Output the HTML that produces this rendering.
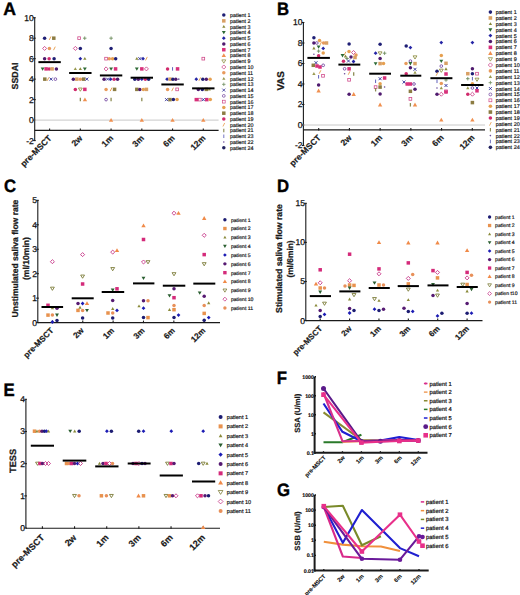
<!DOCTYPE html>
<html><head><meta charset="utf-8"><title>Figure</title>
<style>
html,body{margin:0;padding:0;background:#fff;}
body{width:520px;height:595px;overflow:hidden;}
svg{display:block;font-family:"Liberation Sans", sans-serif;text-rendering:geometricPrecision;}
</style></head><body>
<svg width="520" height="595" viewBox="0 0 520 595">
<rect width="520" height="595" fill="#fff"/>
<text transform="translate(3.27 15.05) scale(0.98 1)" font-size="18" font-weight="bold" fill="#000" stroke="#000" stroke-width="0.4">A</text>
<path d="M34.7 17.7L34.7 140.58" stroke="#1a1a1a" stroke-width="1.1" fill="none"/>
<path d="M33.1 17.7L35.7 17.7" stroke="#1a1a1a" stroke-width="1.1" fill="none"/>
<text x="33.8" y="20.65" font-size="8.5" font-weight="normal" text-anchor="end" fill="#111" stroke="#111" stroke-width="0.25">10</text>
<path d="M33.1 38.18L35.7 38.18" stroke="#1a1a1a" stroke-width="1.1" fill="none"/>
<text x="33.8" y="41.13" font-size="8.5" font-weight="normal" text-anchor="end" fill="#111" stroke="#111" stroke-width="0.25">8</text>
<path d="M33.1 58.66L35.7 58.66" stroke="#1a1a1a" stroke-width="1.1" fill="none"/>
<text x="33.8" y="61.61" font-size="8.5" font-weight="normal" text-anchor="end" fill="#111" stroke="#111" stroke-width="0.25">6</text>
<path d="M33.1 79.14L35.7 79.14" stroke="#1a1a1a" stroke-width="1.1" fill="none"/>
<text x="33.8" y="82.09" font-size="8.5" font-weight="normal" text-anchor="end" fill="#111" stroke="#111" stroke-width="0.25">4</text>
<path d="M33.1 99.62L35.7 99.62" stroke="#1a1a1a" stroke-width="1.1" fill="none"/>
<text x="33.8" y="102.57" font-size="8.5" font-weight="normal" text-anchor="end" fill="#111" stroke="#111" stroke-width="0.25">2</text>
<path d="M33.1 120.1L35.7 120.1" stroke="#1a1a1a" stroke-width="1.1" fill="none"/>
<text x="33.8" y="123.05" font-size="8.5" font-weight="normal" text-anchor="end" fill="#111" stroke="#111" stroke-width="0.25">0</text>
<path d="M33.1 140.58L35.7 140.58" stroke="#1a1a1a" stroke-width="1.1" fill="none"/>
<text x="33.8" y="143.53" font-size="8.5" font-weight="normal" text-anchor="end" fill="#111" stroke="#111" stroke-width="0.25">-2</text>
<path d="M34.7 120.1L218.6 120.1" stroke="#c8c8c8" stroke-width="1" fill="none"/>
<path d="M34.7 130.4L218.6 130.4" stroke="#1a1a1a" stroke-width="1.1" fill="none"/>
<path d="M49.6 128.4L49.6 130.9" stroke="#1a1a1a" stroke-width="1.1" fill="none"/>
<text x="52.3" y="138.75" font-size="8.5" font-weight="bold" text-anchor="end" fill="#1a1a1a" transform="rotate(-45 52.3 138.75)" stroke="#1a1a1a" stroke-width="0.2">pre-MSCT</text>
<path d="M80.34 128.4L80.34 130.9" stroke="#1a1a1a" stroke-width="1.1" fill="none"/>
<text x="83.04" y="138.75" font-size="8.5" font-weight="bold" text-anchor="end" fill="#1a1a1a" transform="rotate(-45 83.04 138.75)" stroke="#1a1a1a" stroke-width="0.2">2w</text>
<path d="M111.08 128.4L111.08 130.9" stroke="#1a1a1a" stroke-width="1.1" fill="none"/>
<text x="113.78" y="138.75" font-size="8.5" font-weight="bold" text-anchor="end" fill="#1a1a1a" transform="rotate(-45 113.78 138.75)" stroke="#1a1a1a" stroke-width="0.2">1m</text>
<path d="M141.82 128.4L141.82 130.9" stroke="#1a1a1a" stroke-width="1.1" fill="none"/>
<text x="144.52" y="138.75" font-size="8.5" font-weight="bold" text-anchor="end" fill="#1a1a1a" transform="rotate(-45 144.52 138.75)" stroke="#1a1a1a" stroke-width="0.2">3m</text>
<path d="M172.56 128.4L172.56 130.9" stroke="#1a1a1a" stroke-width="1.1" fill="none"/>
<text x="175.26" y="138.75" font-size="8.5" font-weight="bold" text-anchor="end" fill="#1a1a1a" transform="rotate(-45 175.26 138.75)" stroke="#1a1a1a" stroke-width="0.2">6m</text>
<path d="M203.3 128.4L203.3 130.9" stroke="#1a1a1a" stroke-width="1.1" fill="none"/>
<text x="206" y="138.75" font-size="8.5" font-weight="bold" text-anchor="end" fill="#1a1a1a" transform="rotate(-45 206 138.75)" stroke="#1a1a1a" stroke-width="0.2">12m</text>
<text x="17.8" y="76" font-size="8.8" font-weight="bold" text-anchor="middle" fill="#1a1a1a" transform="rotate(-90 17.8 76)" stroke="#1a1a1a" stroke-width="0.25">SSDAI</text>
<circle cx="44.6" cy="38.18" r="1.75" fill="#1f1f75"/>
<path d="M49.23 39.93L50.98 36.43" stroke="#e8a050" stroke-width="0.96" fill="none"/>
<rect x="52.05" y="36.43" width="3.5" height="3.5" fill="#8c7c42"/>
<path d="M44.6 46.4L46.62 48.42L44.6 50.43L42.59 48.42Z" fill="none" stroke="#c8307f" stroke-width="0.8"/>
<circle cx="49.4" cy="48.42" r="1.75" fill="#e89a5c"/>
<path d="M53.52 50.17L55.27 46.67" stroke="#e8a050" stroke-width="0.96" fill="none"/>
<circle cx="44.6" cy="58.66" r="1.75" fill="#4f1a6e"/>
<circle cx="49.1" cy="58.66" r="1.75" fill="#d02a6c"/>
<circle cx="54.1" cy="58.66" r="1.75" fill="#1f1f75"/>
<path d="M42.6 70.82L44.52 67.5L40.68 67.5Z" fill="#2d6a35"/>
<rect x="44.35" y="67.15" width="3.5" height="3.5" fill="#d8307a"/>
<circle cx="49.1" cy="68.9" r="1.75" fill="#d02a6c"/>
<rect x="50.35" y="67.15" width="3.5" height="3.5" fill="#d9a064"/>
<circle cx="56.4" cy="68.9" r="1.75" fill="#4f1a6e"/>
<rect x="43.05" y="77.39" width="3.5" height="3.5" fill="#8c7c42"/>
<path d="M47.12 80.89L48.88 77.39" stroke="#e8a050" stroke-width="0.96" fill="none"/>
<path d="M49.61 77.65L52.59 80.63M52.59 77.65L49.61 80.63" stroke="#2a2a95" stroke-width="0.8800000000000001" fill="none"/>
<circle cx="55.4" cy="79.14" r="1.35" fill="none" stroke="#6a3a9a" stroke-width="0.8"/>
<rect x="77.79" y="36.83" width="2.7" height="2.7" fill="none" stroke="#d04a8a" stroke-width="0.8"/>
<path d="M82.99 38.18H86.49M84.74 36.43V39.93" stroke="#6c8c5c" stroke-width="0.8800000000000001" fill="none"/>
<path d="M75.34 46.4L77.36 48.42L75.34 50.43L73.33 48.42Z" fill="none" stroke="#c8307f" stroke-width="0.8"/>
<circle cx="80.34" cy="48.42" r="1.75" fill="#1f1f75"/>
<path d="M80.34 56.77L82.23 58.66L80.34 60.55L78.45 58.66Z" fill="#2525a5"/>
<path d="M84.84 57.02L86.48 59.84L83.2 59.84Z" fill="#8a8a3a"/>
<path d="M75.34 67.26L76.98 70.08L73.7 70.08Z" fill="#9a9a50"/>
<path d="M80.34 67.26L81.98 70.08L78.7 70.08Z" fill="#8a8a3a"/>
<path d="M84.84 70.82L86.77 67.5L82.92 67.5Z" fill="#2d6a35"/>
<circle cx="73.34" cy="79.14" r="1.75" fill="#4f1a6e"/>
<rect x="75.09" y="77.39" width="3.5" height="3.5" fill="#d9a064"/>
<circle cx="80.34" cy="79.14" r="1.75" fill="#e89a5c"/>
<rect x="81.89" y="77.39" width="3.5" height="3.5" fill="#8c7c42"/>
<path d="M85.35 77.65L88.33 80.63M88.33 77.65L85.35 80.63" stroke="#2a2a95" stroke-width="0.8800000000000001" fill="none"/>
<circle cx="75.34" cy="89.38" r="1.75" fill="#d02a6c"/>
<path d="M80.34 91.23L82.27 88.04L78.41 88.04Z" fill="none" stroke="#8a8a3a" stroke-width="0.8400000000000001" stroke-linejoin="miter"/>
<rect x="83.09" y="87.63" width="3.5" height="3.5" fill="#d8307a"/>
<path d="M80.34 97.87V101.37" stroke="#8a8a50" stroke-width="1.2800000000000002" fill="none"/>
<path d="M84.94 97.43L87.13 101.19L82.75 101.19Z" fill="#f09050"/>
<path d="M109.33 38.18H112.83M111.08 36.43V39.93" stroke="#6c8c5c" stroke-width="0.8800000000000001" fill="none"/>
<circle cx="111.08" cy="48.42" r="1.75" fill="#1f1f75"/>
<rect x="104.73" y="57.31" width="2.7" height="2.7" fill="none" stroke="#d04a8a" stroke-width="0.8"/>
<circle cx="109.28" cy="58.66" r="1.75" fill="#e89a5c"/>
<circle cx="112.58" cy="58.66" r="1.75" fill="#e6a050"/>
<circle cx="115.68" cy="58.66" r="1.75" fill="#1f1f75"/>
<path d="M106.08 66.88L108.09 68.9L106.08 70.91L104.06 68.9Z" fill="none" stroke="#c8307f" stroke-width="0.8"/>
<path d="M111.08 70.82L113 67.5L109.16 67.5Z" fill="#2d6a35"/>
<rect x="113.83" y="67.15" width="3.5" height="3.5" fill="#d8307a"/>
<circle cx="104.08" cy="79.14" r="1.75" fill="#4f1a6e"/>
<path d="M106.09 77.65L109.07 80.63M109.07 77.65L106.09 80.63" stroke="#2a2a95" stroke-width="0.8800000000000001" fill="none"/>
<path d="M110.58 77.25L112.47 79.14L110.58 81.03L108.69 79.14Z" fill="#2525a5"/>
<circle cx="114.08" cy="79.14" r="1.75" fill="#d02a6c"/>
<circle cx="117.58" cy="79.14" r="1.75" fill="#4f1a6e"/>
<circle cx="106.08" cy="89.38" r="1.75" fill="#e89a5c"/>
<path d="M110.2 91.13L111.95 87.63" stroke="#e8a050" stroke-width="0.96" fill="none"/>
<rect x="112.83" y="87.63" width="3.5" height="3.5" fill="#8c7c42"/>
<circle cx="106.08" cy="99.62" r="1.35" fill="none" stroke="#6a3a9a" stroke-width="0.8"/>
<path d="M111.08 97.87V101.37" stroke="#8a8a50" stroke-width="1.2800000000000002" fill="none"/>
<path d="M111.08 117.91L113.27 121.67L108.89 121.67Z" fill="#f09050"/>
<path d="M136.82 57.02L138.46 59.84L135.18 59.84Z" fill="#8a8a3a"/>
<path d="M138.33 57.17L141.31 60.15M141.31 57.17L138.33 60.15" stroke="#2a2a95" stroke-width="0.8800000000000001" fill="none"/>
<path d="M143.02 56.77L144.91 58.66L143.02 60.55L141.13 58.66Z" fill="#2525a5"/>
<path d="M145.54 60.41L147.29 56.91" stroke="#e8a050" stroke-width="0.96" fill="none"/>
<path d="M136.82 70.82L138.75 67.5L134.89 67.5Z" fill="#2d6a35"/>
<rect x="140.07" y="67.15" width="3.5" height="3.5" fill="#d8307a"/>
<path d="M146.42 66.88L148.43 68.9L146.42 70.91L144.41 68.9Z" fill="none" stroke="#c8307f" stroke-width="0.8"/>
<circle cx="134.82" cy="79.14" r="1.75" fill="#1f1f75"/>
<circle cx="138.32" cy="79.14" r="1.75" fill="#4f1a6e"/>
<path d="M141.82 77.25L143.71 79.14L141.82 81.03L139.93 79.14Z" fill="#2525a5"/>
<circle cx="145.32" cy="79.14" r="1.75" fill="#d02a6c"/>
<circle cx="148.62" cy="79.14" r="1.75" fill="#1f1f75"/>
<rect x="135.07" y="87.63" width="3.5" height="3.5" fill="#8c7c42"/>
<circle cx="139.82" cy="89.38" r="1.75" fill="#4f1a6e"/>
<circle cx="143.32" cy="89.38" r="1.75" fill="#e6a050"/>
<rect x="144.67" y="87.63" width="3.5" height="3.5" fill="#d9a064"/>
<path d="M141.82 97.87V101.37" stroke="#8a8a50" stroke-width="1.2800000000000002" fill="none"/>
<path d="M141.82 117.91L144.01 121.67L139.63 121.67Z" fill="#f09050"/>
<circle cx="167.56" cy="68.9" r="1.75" fill="#d02a6c"/>
<path d="M172.56 67.15V70.65" stroke="#4a4ab0" stroke-width="0.8800000000000001" fill="none"/>
<rect x="175.81" y="67.15" width="3.5" height="3.5" fill="#d8307a"/>
<path d="M167.06 77.25L168.95 79.14L167.06 81.03L165.17 79.14Z" fill="#2525a5"/>
<rect x="168.31" y="77.39" width="3.5" height="3.5" fill="#d9a064"/>
<circle cx="172.86" cy="79.14" r="1.75" fill="#1f1f75"/>
<circle cx="175.76" cy="79.14" r="1.75" fill="#4f1a6e"/>
<circle cx="178.76" cy="79.14" r="0.79" fill="#6a4a9a"/>
<circle cx="167.56" cy="89.38" r="1.75" fill="#e89a5c"/>
<path d="M171.69 91.13L173.44 87.63" stroke="#e8a050" stroke-width="0.96" fill="none"/>
<rect x="175.81" y="88.03" width="2.7" height="2.7" fill="none" stroke="#d04a8a" stroke-width="0.8"/>
<path d="M165.07 98.13L168.05 101.11M168.05 98.13L165.07 101.11" stroke="#2a2a95" stroke-width="0.8800000000000001" fill="none"/>
<rect x="168.21" y="97.87" width="3.5" height="3.5" fill="#8c7c42"/>
<circle cx="173.36" cy="99.62" r="1.75" fill="#1f1f75"/>
<circle cx="177.06" cy="99.62" r="1.75" fill="#e6a050"/>
<path d="M172.56 117.91L174.75 121.67L170.37 121.67Z" fill="#f09050"/>
<rect x="201.95" y="57.31" width="2.7" height="2.7" fill="none" stroke="#d04a8a" stroke-width="0.8"/>
<path d="M196.3 77.25L198.19 79.14L196.3 81.03L194.41 79.14Z" fill="#2525a5"/>
<path d="M198.92 80.89L200.67 77.39" stroke="#e8a050" stroke-width="0.96" fill="none"/>
<circle cx="202.8" cy="79.14" r="1.75" fill="#1f1f75"/>
<circle cx="206.3" cy="79.14" r="1.75" fill="#4f1a6e"/>
<circle cx="210.1" cy="79.14" r="1.75" fill="#e6a050"/>
<circle cx="198.3" cy="89.38" r="1.75" fill="#4f1a6e"/>
<circle cx="202.3" cy="89.38" r="1.75" fill="#1f1f75"/>
<rect x="204.55" y="87.63" width="3.5" height="3.5" fill="#8c7c42"/>
<path d="M209.3 87.74L210.94 90.56L207.66 90.56Z" fill="#9a9a50"/>
<rect x="194.55" y="97.87" width="3.5" height="3.5" fill="#d8307a"/>
<rect x="198.45" y="98.27" width="2.7" height="2.7" fill="none" stroke="#d04a8a" stroke-width="0.8"/>
<path d="M201.81 98.13L204.79 101.11M204.79 98.13L201.81 101.11" stroke="#2a2a95" stroke-width="0.8800000000000001" fill="none"/>
<rect x="205.05" y="97.87" width="3.5" height="3.5" fill="#d8307a"/>
<circle cx="210.3" cy="99.62" r="1.75" fill="#e6a050"/>
<path d="M203.3 117.91L205.49 121.67L201.11 121.67Z" fill="#f09050"/>
<path d="M38.4 62.14L60.8 62.14" stroke="#000" stroke-width="2" fill="none"/>
<path d="M69.14 73L91.54 73" stroke="#000" stroke-width="2" fill="none"/>
<path d="M99.88 75.45L122.28 75.45" stroke="#000" stroke-width="2" fill="none"/>
<path d="M130.62 77.71L153.02 77.71" stroke="#000" stroke-width="2" fill="none"/>
<path d="M161.36 84.46L183.76 84.46" stroke="#000" stroke-width="2" fill="none"/>
<path d="M192.1 88.36L214.5 88.36" stroke="#000" stroke-width="2" fill="none"/>
<circle cx="223.8" cy="15.1" r="1.75" fill="#1f1f75"/>
<text x="230" y="17.03" font-size="5.35" font-weight="normal" text-anchor="start" fill="#111" stroke="#111" stroke-width="0.17">patient 1</text>
<rect x="222.05" y="19.12" width="3.5" height="3.5" fill="#d9a064"/>
<text x="230" y="22.8" font-size="5.35" font-weight="normal" text-anchor="start" fill="#111" stroke="#111" stroke-width="0.17">patient 2</text>
<path d="M223.8 25L225.44 27.82L222.16 27.82Z" fill="#8a8a3a"/>
<text x="230" y="28.57" font-size="5.35" font-weight="normal" text-anchor="start" fill="#111" stroke="#111" stroke-width="0.17">patient 3</text>
<path d="M223.8 34.33L225.73 31.01L221.88 31.01Z" fill="#2d6a35"/>
<text x="230" y="34.34" font-size="5.35" font-weight="normal" text-anchor="start" fill="#111" stroke="#111" stroke-width="0.17">patient 4</text>
<path d="M223.8 36.29L225.69 38.18L223.8 40.07L221.91 38.18Z" fill="#2525a5"/>
<text x="230" y="40.11" font-size="5.35" font-weight="normal" text-anchor="start" fill="#111" stroke="#111" stroke-width="0.17">patient 5</text>
<circle cx="223.8" cy="43.95" r="1.75" fill="#4f1a6e"/>
<text x="230" y="45.88" font-size="5.35" font-weight="normal" text-anchor="start" fill="#111" stroke="#111" stroke-width="0.17">patient 6</text>
<rect x="222.05" y="47.97" width="3.5" height="3.5" fill="#d8307a"/>
<text x="230" y="51.65" font-size="5.35" font-weight="normal" text-anchor="start" fill="#111" stroke="#111" stroke-width="0.17">patient 7</text>
<path d="M223.8 53.3L225.99 57.07L221.61 57.07Z" fill="#f09050"/>
<text x="230" y="57.42" font-size="5.35" font-weight="normal" text-anchor="start" fill="#111" stroke="#111" stroke-width="0.17">patient 8</text>
<path d="M223.8 63.17L225.79 59.87L221.81 59.87Z" fill="none" stroke="#8a8a3a" stroke-width="0.735" stroke-linejoin="miter"/>
<text x="230" y="63.19" font-size="5.35" font-weight="normal" text-anchor="start" fill="#111" stroke="#111" stroke-width="0.17">patient 9</text>
<path d="M223.8 64.96L225.87 67.03L223.8 69.09L221.74 67.03Z" fill="none" stroke="#c8307f" stroke-width="0.7"/>
<text x="230" y="68.96" font-size="5.35" font-weight="normal" text-anchor="start" fill="#111" stroke="#111" stroke-width="0.17">patient 10</text>
<circle cx="223.8" cy="72.8" r="1.75" fill="#e89a5c"/>
<text x="230" y="74.73" font-size="5.35" font-weight="normal" text-anchor="start" fill="#111" stroke="#111" stroke-width="0.17">patient 11</text>
<path d="M223.8 76.93L225.44 79.75L222.16 79.75Z" fill="#9a9a50"/>
<text x="230" y="80.5" font-size="5.35" font-weight="normal" text-anchor="start" fill="#111" stroke="#111" stroke-width="0.17">patient 12</text>
<path d="M222.05 84.34H225.55M223.8 82.59V86.09" stroke="#6c8c5c" stroke-width="0.77" fill="none"/>
<text x="230" y="86.27" font-size="5.35" font-weight="normal" text-anchor="start" fill="#111" stroke="#111" stroke-width="0.17">patient 13</text>
<path d="M222.31 88.62L225.29 91.6M225.29 88.62L222.31 91.6" stroke="#2a2a95" stroke-width="0.77" fill="none"/>
<text x="230" y="92.04" font-size="5.35" font-weight="normal" text-anchor="start" fill="#111" stroke="#111" stroke-width="0.17">patient 14</text>
<circle cx="223.8" cy="95.88" r="1.4" fill="none" stroke="#6a3a9a" stroke-width="0.7"/>
<text x="230" y="97.81" font-size="5.35" font-weight="normal" text-anchor="start" fill="#111" stroke="#111" stroke-width="0.17">patient 15</text>
<rect x="222.4" y="100.25" width="2.8" height="2.8" fill="none" stroke="#d04a8a" stroke-width="0.7"/>
<text x="230" y="103.58" font-size="5.35" font-weight="normal" text-anchor="start" fill="#111" stroke="#111" stroke-width="0.17">patient 16</text>
<circle cx="223.8" cy="107.42" r="1.75" fill="#e6a050"/>
<text x="230" y="109.35" font-size="5.35" font-weight="normal" text-anchor="start" fill="#111" stroke="#111" stroke-width="0.17">patient 17</text>
<rect x="222.05" y="111.44" width="3.5" height="3.5" fill="#8c7c42"/>
<text x="230" y="115.12" font-size="5.35" font-weight="normal" text-anchor="start" fill="#111" stroke="#111" stroke-width="0.17">patient 18</text>
<circle cx="223.8" cy="118.96" r="1.75" fill="#d02a6c"/>
<text x="230" y="120.89" font-size="5.35" font-weight="normal" text-anchor="start" fill="#111" stroke="#111" stroke-width="0.17">patient 19</text>
<path d="M222.93 126.48L224.68 122.98" stroke="#e8a050" stroke-width="0.84" fill="none"/>
<text x="230" y="126.66" font-size="5.35" font-weight="normal" text-anchor="start" fill="#111" stroke="#111" stroke-width="0.17">patient 20</text>
<path d="M223.8 128.75V132.25" stroke="#8a8a50" stroke-width="1.1199999999999999" fill="none"/>
<text x="230" y="132.43" font-size="5.35" font-weight="normal" text-anchor="start" fill="#111" stroke="#111" stroke-width="0.17">patient 21</text>
<path d="M223.8 134.52V138.02" stroke="#4a4ab0" stroke-width="0.77" fill="none"/>
<text x="230" y="138.2" font-size="5.35" font-weight="normal" text-anchor="start" fill="#111" stroke="#111" stroke-width="0.17">patient 23</text>
<circle cx="223.8" cy="142.04" r="0.79" fill="#6a4a9a"/>
<text x="230" y="143.97" font-size="5.35" font-weight="normal" text-anchor="start" fill="#111" stroke="#111" stroke-width="0.17">patient 22</text>
<circle cx="223.8" cy="147.81" r="1.75" fill="#23235f"/>
<text x="230" y="149.74" font-size="5.35" font-weight="normal" text-anchor="start" fill="#111" stroke="#111" stroke-width="0.17">patient 24</text>
<text transform="translate(276.93 15.05) scale(0.93 1)" font-size="18" font-weight="bold" fill="#000" stroke="#000" stroke-width="0.4">B</text>
<path d="M303.4 22.5L303.4 145.5" stroke="#1a1a1a" stroke-width="1.1" fill="none"/>
<path d="M301.8 22.5L304.4 22.5" stroke="#1a1a1a" stroke-width="1.1" fill="none"/>
<text x="302.5" y="25.45" font-size="8.5" font-weight="normal" text-anchor="end" fill="#111" stroke="#111" stroke-width="0.25">10</text>
<path d="M301.8 43L304.4 43" stroke="#1a1a1a" stroke-width="1.1" fill="none"/>
<text x="302.5" y="45.95" font-size="8.5" font-weight="normal" text-anchor="end" fill="#111" stroke="#111" stroke-width="0.25">8</text>
<path d="M301.8 63.5L304.4 63.5" stroke="#1a1a1a" stroke-width="1.1" fill="none"/>
<text x="302.5" y="66.45" font-size="8.5" font-weight="normal" text-anchor="end" fill="#111" stroke="#111" stroke-width="0.25">6</text>
<path d="M301.8 84L304.4 84" stroke="#1a1a1a" stroke-width="1.1" fill="none"/>
<text x="302.5" y="86.95" font-size="8.5" font-weight="normal" text-anchor="end" fill="#111" stroke="#111" stroke-width="0.25">4</text>
<path d="M301.8 104.5L304.4 104.5" stroke="#1a1a1a" stroke-width="1.1" fill="none"/>
<text x="302.5" y="107.45" font-size="8.5" font-weight="normal" text-anchor="end" fill="#111" stroke="#111" stroke-width="0.25">2</text>
<path d="M301.8 125L304.4 125" stroke="#1a1a1a" stroke-width="1.1" fill="none"/>
<text x="302.5" y="127.95" font-size="8.5" font-weight="normal" text-anchor="end" fill="#111" stroke="#111" stroke-width="0.25">0</text>
<path d="M301.8 145.5L304.4 145.5" stroke="#1a1a1a" stroke-width="1.1" fill="none"/>
<text x="302.5" y="148.45" font-size="8.5" font-weight="normal" text-anchor="end" fill="#111" stroke="#111" stroke-width="0.25">-2</text>
<path d="M303.4 125L485 125" stroke="#c8c8c8" stroke-width="1" fill="none"/>
<path d="M303.4 129.9L485 129.9" stroke="#1a1a1a" stroke-width="1.1" fill="none"/>
<path d="M318.7 127.9L318.7 130.4" stroke="#1a1a1a" stroke-width="1.1" fill="none"/>
<text x="321.4" y="138.25" font-size="8.5" font-weight="bold" text-anchor="end" fill="#1a1a1a" transform="rotate(-45 321.4 138.25)" stroke="#1a1a1a" stroke-width="0.2">pre-MSCT</text>
<path d="M349.42 127.9L349.42 130.4" stroke="#1a1a1a" stroke-width="1.1" fill="none"/>
<text x="352.12" y="138.25" font-size="8.5" font-weight="bold" text-anchor="end" fill="#1a1a1a" transform="rotate(-45 352.12 138.25)" stroke="#1a1a1a" stroke-width="0.2">2w</text>
<path d="M380.14 127.9L380.14 130.4" stroke="#1a1a1a" stroke-width="1.1" fill="none"/>
<text x="382.84" y="138.25" font-size="8.5" font-weight="bold" text-anchor="end" fill="#1a1a1a" transform="rotate(-45 382.84 138.25)" stroke="#1a1a1a" stroke-width="0.2">1m</text>
<path d="M410.86 127.9L410.86 130.4" stroke="#1a1a1a" stroke-width="1.1" fill="none"/>
<text x="413.56" y="138.25" font-size="8.5" font-weight="bold" text-anchor="end" fill="#1a1a1a" transform="rotate(-45 413.56 138.25)" stroke="#1a1a1a" stroke-width="0.2">3m</text>
<path d="M441.58 127.9L441.58 130.4" stroke="#1a1a1a" stroke-width="1.1" fill="none"/>
<text x="444.28" y="138.25" font-size="8.5" font-weight="bold" text-anchor="end" fill="#1a1a1a" transform="rotate(-45 444.28 138.25)" stroke="#1a1a1a" stroke-width="0.2">6m</text>
<path d="M472.3 127.9L472.3 130.4" stroke="#1a1a1a" stroke-width="1.1" fill="none"/>
<text x="475" y="138.25" font-size="8.5" font-weight="bold" text-anchor="end" fill="#1a1a1a" transform="rotate(-45 475 138.25)" stroke="#1a1a1a" stroke-width="0.2">12m</text>
<text x="284.3" y="80.9" font-size="9.8" font-weight="bold" text-anchor="middle" fill="#1a1a1a" transform="rotate(-90 284.3 80.9)" stroke="#1a1a1a" stroke-width="0.25">VAS</text>
<circle cx="313.9" cy="37.8" r="1.75" fill="#1f1f75"/>
<circle cx="313.9" cy="43" r="1.75" fill="#4f1a6e"/>
<circle cx="316.8" cy="43" r="1.35" fill="none" stroke="#6a3a9a" stroke-width="0.8"/>
<circle cx="319.5" cy="40.5" r="1.75" fill="#e6a050"/>
<path d="M319.93 45.05L321.68 41.55" stroke="#e8a050" stroke-width="0.96" fill="none"/>
<circle cx="323.6" cy="43" r="1.75" fill="#e89a5c"/>
<rect x="324.75" y="41.25" width="3.5" height="3.5" fill="#d9a064"/>
<path d="M313.9 46.56L315.54 49.38L312.26 49.38Z" fill="#8a8a3a"/>
<path d="M318.6 48.72L320.53 45.4L316.68 45.4Z" fill="#2d6a35"/>
<path d="M323.2 46.51L325.09 48.4L323.2 50.29L321.31 48.4Z" fill="#2525a5"/>
<path d="M316.85 51.1H320.35M318.6 49.35V52.85" stroke="#6c8c5c" stroke-width="0.8800000000000001" fill="none"/>
<circle cx="313.9" cy="54.2" r="0.79" fill="#6a4a9a"/>
<circle cx="323.2" cy="53.1" r="1.75" fill="#e6a050"/>
<circle cx="318.6" cy="55.8" r="1.75" fill="#d02a6c"/>
<path d="M314.51 61.21L317.49 64.19M317.49 61.21L314.51 64.19" stroke="#2a2a95" stroke-width="0.8800000000000001" fill="none"/>
<rect x="311.55" y="63.55" width="3.5" height="3.5" fill="#8c7c42"/>
<rect x="315.25" y="64.25" width="3.5" height="3.5" fill="#d8307a"/>
<rect x="318.25" y="65.25" width="3.5" height="3.5" fill="#d8307a"/>
<circle cx="323.2" cy="65.3" r="1.35" fill="none" stroke="#6a3a9a" stroke-width="0.8"/>
<path d="M313.9 72.06L315.54 74.88L312.26 74.88Z" fill="#9a9a50"/>
<path d="M319.12 73.75L320.88 70.25" stroke="#e8a050" stroke-width="0.96" fill="none"/>
<rect x="321.65" y="74.45" width="2.7" height="2.7" fill="none" stroke="#d04a8a" stroke-width="0.8"/>
<path d="M318.6 75.05V78.55" stroke="#4a4ab0" stroke-width="0.8800000000000001" fill="none"/>
<circle cx="318.6" cy="84.9" r="1.75" fill="#4f1a6e"/>
<path d="M318.6 88.61L320.79 92.38L316.41 92.38Z" fill="#f09050"/>
<circle cx="349.1" cy="43.9" r="1.75" fill="#1f1f75"/>
<path d="M344.12 55.25L345.88 51.75" stroke="#e8a050" stroke-width="0.96" fill="none"/>
<circle cx="349" cy="51.5" r="1.75" fill="#e6a050"/>
<path d="M353.5 50.48L355.51 52.5L353.5 54.52L351.49 52.5Z" fill="none" stroke="#c8307f" stroke-width="0.8"/>
<circle cx="356" cy="55" r="1.75" fill="#e89a5c"/>
<path d="M342.5 57.42L344.43 54.1L340.57 54.1Z" fill="#2d6a35"/>
<path d="M345.5 54.56L347.14 57.38L343.86 57.38Z" fill="#8a8a3a"/>
<circle cx="351" cy="57" r="1.75" fill="#4f1a6e"/>
<path d="M345.25 58.5H348.75M347 56.75V60.25" stroke="#6c8c5c" stroke-width="0.8800000000000001" fill="none"/>
<rect x="353.25" y="55.75" width="3.5" height="3.5" fill="#d9a064"/>
<circle cx="343.5" cy="61.2" r="1.75" fill="#d02a6c"/>
<path d="M347.01 59.51L349.99 62.49M349.99 59.51L347.01 62.49" stroke="#2a2a95" stroke-width="0.8800000000000001" fill="none"/>
<path d="M353.5 59.61L355.39 61.5L353.5 63.39L351.61 61.5Z" fill="#2525a5"/>
<circle cx="344.6" cy="68.8" r="1.35" fill="none" stroke="#6a3a9a" stroke-width="0.8"/>
<rect x="347.35" y="67.05" width="3.5" height="3.5" fill="#d8307a"/>
<circle cx="344.6" cy="73.7" r="0.79" fill="#6a4a9a"/>
<path d="M348.23 74.75L349.98 71.25" stroke="#e8a050" stroke-width="0.96" fill="none"/>
<path d="M353.7 72.25V75.75" stroke="#8a8a50" stroke-width="1.2800000000000002" fill="none"/>
<rect x="347.75" y="78.45" width="2.7" height="2.7" fill="none" stroke="#d04a8a" stroke-width="0.8"/>
<circle cx="349.1" cy="94.3" r="1.75" fill="#4f1a6e"/>
<path d="M353.7 92.11L355.89 95.88L351.51 95.88Z" fill="#f09050"/>
<circle cx="380.1" cy="44.3" r="1.75" fill="#1f1f75"/>
<path d="M375.6 51.31L377.49 53.2L375.6 55.09L373.71 53.2Z" fill="#2525a5"/>
<path d="M380.1 55.05L382.03 51.86L378.17 51.86Z" fill="none" stroke="#8a8a3a" stroke-width="0.8400000000000001" stroke-linejoin="miter"/>
<path d="M382.85 53.2H386.35M384.6 51.45V54.95" stroke="#6c8c5c" stroke-width="0.8800000000000001" fill="none"/>
<circle cx="380.1" cy="58.6" r="1.75" fill="#4f1a6e"/>
<path d="M375.6 65.53L377.53 62.2L373.68 62.2Z" fill="#2d6a35"/>
<rect x="378.35" y="61.85" width="3.5" height="3.5" fill="#d9a064"/>
<circle cx="383.5" cy="63.6" r="1.75" fill="#e6a050"/>
<path d="M378.61 77.21L381.59 80.19M381.59 77.21L378.61 80.19" stroke="#2a2a95" stroke-width="0.8800000000000001" fill="none"/>
<rect x="382.85" y="76.25" width="3.5" height="3.5" fill="#d8307a"/>
<path d="M375.6 79.55V83.05" stroke="#4a4ab0" stroke-width="0.8800000000000001" fill="none"/>
<circle cx="380.1" cy="83.8" r="1.75" fill="#e6a050"/>
<rect x="374.25" y="85.75" width="2.7" height="2.7" fill="none" stroke="#d04a8a" stroke-width="0.8"/>
<rect x="378.35" y="85.35" width="3.5" height="3.5" fill="#8c7c42"/>
<circle cx="384.6" cy="87" r="0.79" fill="#6a4a9a"/>
<path d="M375.6 87.95V91.45" stroke="#8a8a50" stroke-width="1.2800000000000002" fill="none"/>
<circle cx="380.1" cy="93.9" r="1.75" fill="#4f1a6e"/>
<path d="M380.1 102.61L382.29 106.38L377.91 106.38Z" fill="#f09050"/>
<circle cx="406.2" cy="46" r="1.75" fill="#1f1f75"/>
<path d="M410.4 45.71L412.29 47.6L410.4 49.49L408.51 47.6Z" fill="#2525a5"/>
<path d="M415 59.05L416.93 55.86L413.07 55.86Z" fill="none" stroke="#8a8a3a" stroke-width="0.8400000000000001" stroke-linejoin="miter"/>
<circle cx="410.4" cy="61.1" r="1.35" fill="none" stroke="#6a3a9a" stroke-width="0.8"/>
<circle cx="406" cy="63.6" r="1.75" fill="#e89a5c"/>
<rect x="413.25" y="61.85" width="3.5" height="3.5" fill="#d9a064"/>
<path d="M410.4 65.42L412.32 62.1L408.47 62.1Z" fill="#2d6a35"/>
<circle cx="410.4" cy="67.8" r="1.75" fill="#4f1a6e"/>
<path d="M413.51 67.81L416.49 70.79M416.49 67.81L413.51 70.79" stroke="#2a2a95" stroke-width="0.8800000000000001" fill="none"/>
<circle cx="406.2" cy="73.7" r="1.75" fill="#d02a6c"/>
<path d="M415 70.86L416.64 73.68L413.36 73.68Z" fill="#9a9a50"/>
<path d="M402.51 80.61L405.49 83.59M405.49 80.61L402.51 83.59" stroke="#2a2a95" stroke-width="0.8800000000000001" fill="none"/>
<rect x="405.45" y="82.25" width="3.5" height="3.5" fill="#d8307a"/>
<rect x="408.65" y="82.25" width="3.5" height="3.5" fill="#d8307a"/>
<circle cx="414" cy="84" r="1.35" fill="none" stroke="#6a3a9a" stroke-width="0.8"/>
<circle cx="415" cy="89.2" r="1.75" fill="#4f1a6e"/>
<rect x="408.65" y="89.55" width="3.5" height="3.5" fill="#8c7c42"/>
<rect x="409.05" y="97.55" width="2.7" height="2.7" fill="none" stroke="#d04a8a" stroke-width="0.8"/>
<path d="M410.4 103.05V106.55" stroke="#8a8a50" stroke-width="1.2800000000000002" fill="none"/>
<path d="M415 102.61L417.19 106.38L412.81 106.38Z" fill="#f09050"/>
<path d="M441.3 40.71L443.19 42.6L441.3 44.49L439.41 42.6Z" fill="#2525a5"/>
<circle cx="441.3" cy="55.5" r="1.75" fill="#e6a050"/>
<path d="M441.3 63.02L443.23 59.7L439.38 59.7Z" fill="#2d6a35"/>
<rect x="444.25" y="61.55" width="3.5" height="3.5" fill="#d9a064"/>
<circle cx="441.3" cy="66.1" r="1.35" fill="none" stroke="#6a3a9a" stroke-width="0.8"/>
<circle cx="437" cy="71.2" r="1.75" fill="#1f1f75"/>
<path d="M441.3 72.35L443.23 69.16L439.37 69.16Z" fill="none" stroke="#8a8a3a" stroke-width="0.8400000000000001" stroke-linejoin="miter"/>
<path d="M446 67.36L447.64 70.18L444.36 70.18Z" fill="#8a8a3a"/>
<rect x="444.25" y="72.25" width="3.5" height="3.5" fill="#d8307a"/>
<path d="M436.12 75.75L437.88 72.25" stroke="#e8a050" stroke-width="0.96" fill="none"/>
<path d="M437 79.55V83.05" stroke="#4a4ab0" stroke-width="0.8800000000000001" fill="none"/>
<path d="M444.25 80H447.75M446 78.25V81.75" stroke="#6c8c5c" stroke-width="0.8800000000000001" fill="none"/>
<circle cx="441.3" cy="83.4" r="1.75" fill="#e89a5c"/>
<path d="M444.51 84.01L447.49 86.99M447.49 84.01L444.51 86.99" stroke="#2a2a95" stroke-width="0.8800000000000001" fill="none"/>
<circle cx="437" cy="88" r="0.79" fill="#6a4a9a"/>
<path d="M441.3 86.36L442.94 89.18L439.66 89.18Z" fill="#9a9a50"/>
<rect x="444.65" y="89.95" width="2.7" height="2.7" fill="none" stroke="#d04a8a" stroke-width="0.8"/>
<circle cx="437" cy="94.2" r="1.75" fill="#4f1a6e"/>
<path d="M441.3 92.19L443.31 94.2L441.3 96.22L439.29 94.2Z" fill="none" stroke="#c8307f" stroke-width="0.8"/>
<rect x="444.25" y="90.25" width="3.5" height="3.5" fill="#d8307a"/>
<path d="M441.3 117.71L443.49 121.48L439.11 121.48Z" fill="#f09050"/>
<path d="M472.4 40.71L474.29 42.6L472.4 44.49L470.51 42.6Z" fill="#2525a5"/>
<circle cx="472.4" cy="68.7" r="1.75" fill="#4f1a6e"/>
<rect x="466.05" y="71.95" width="3.5" height="3.5" fill="#d9a064"/>
<circle cx="472.4" cy="73.7" r="1.75" fill="#1f1f75"/>
<rect x="475.65" y="72.35" width="2.7" height="2.7" fill="none" stroke="#d04a8a" stroke-width="0.8"/>
<path d="M466.05 78.7H469.55M467.8 76.95V80.45" stroke="#6c8c5c" stroke-width="0.8800000000000001" fill="none"/>
<path d="M472.4 76.95V80.45" stroke="#4a4ab0" stroke-width="0.8800000000000001" fill="none"/>
<path d="M477 81.35L478.93 78.16L475.07 78.16Z" fill="none" stroke="#8a8a3a" stroke-width="0.8400000000000001" stroke-linejoin="miter"/>
<circle cx="472.4" cy="83.8" r="1.75" fill="#e6a050"/>
<path d="M467.8 86.36L469.44 89.18L466.16 89.18Z" fill="#9a9a50"/>
<circle cx="472.4" cy="88" r="1.35" fill="none" stroke="#6a3a9a" stroke-width="0.8"/>
<path d="M475.51 86.51L478.49 89.49M478.49 86.51L475.51 89.49" stroke="#2a2a95" stroke-width="0.8800000000000001" fill="none"/>
<circle cx="467.8" cy="94.2" r="1.75" fill="#d02a6c"/>
<path d="M472.4 92.19L474.41 94.2L472.4 96.22L470.38 94.2Z" fill="none" stroke="#c8307f" stroke-width="0.8"/>
<rect x="475.25" y="89.05" width="3.5" height="3.5" fill="#d8307a"/>
<rect x="470.65" y="100.85" width="3.5" height="3.5" fill="#8c7c42"/>
<path d="M472.4 117.71L474.59 121.48L470.21 121.48Z" fill="#f09050"/>
<path d="M307.4 57.9L329.9 57.9" stroke="#000" stroke-width="2" fill="none"/>
<path d="M338.4 64.6L360.3 64.6" stroke="#000" stroke-width="2" fill="none"/>
<path d="M369.2 73.7L391 73.7" stroke="#000" stroke-width="2" fill="none"/>
<path d="M400.3 75.7L421.3 75.7" stroke="#000" stroke-width="2" fill="none"/>
<path d="M430.4 78.2L452.4 78.2" stroke="#000" stroke-width="2" fill="none"/>
<path d="M461.1 85L483.5 85" stroke="#000" stroke-width="2" fill="none"/>
<circle cx="490.4" cy="12.1" r="1.8" fill="#1f1f75"/>
<text x="495.8" y="14.06" font-size="5.45" font-weight="normal" text-anchor="start" fill="#111" stroke="#111" stroke-width="0.17">patient 1</text>
<rect x="488.6" y="16.18" width="3.6" height="3.6" fill="#d9a064"/>
<text x="495.8" y="19.94" font-size="5.45" font-weight="normal" text-anchor="start" fill="#111" stroke="#111" stroke-width="0.17">patient 2</text>
<path d="M490.4 22.17L492.09 25.07L488.71 25.07Z" fill="#8a8a3a"/>
<text x="495.8" y="25.82" font-size="5.45" font-weight="normal" text-anchor="start" fill="#111" stroke="#111" stroke-width="0.17">patient 3</text>
<path d="M490.4 31.72L492.38 28.3L488.42 28.3Z" fill="#2d6a35"/>
<text x="495.8" y="31.7" font-size="5.45" font-weight="normal" text-anchor="start" fill="#111" stroke="#111" stroke-width="0.17">patient 4</text>
<path d="M490.4 33.68L492.34 35.62L490.4 37.56L488.46 35.62Z" fill="#2525a5"/>
<text x="495.8" y="37.58" font-size="5.45" font-weight="normal" text-anchor="start" fill="#111" stroke="#111" stroke-width="0.17">patient 5</text>
<circle cx="490.4" cy="41.5" r="1.8" fill="#4f1a6e"/>
<text x="495.8" y="43.46" font-size="5.45" font-weight="normal" text-anchor="start" fill="#111" stroke="#111" stroke-width="0.17">patient 6</text>
<rect x="488.6" y="45.58" width="3.6" height="3.6" fill="#d8307a"/>
<text x="495.8" y="49.34" font-size="5.45" font-weight="normal" text-anchor="start" fill="#111" stroke="#111" stroke-width="0.17">patient 7</text>
<path d="M490.4 51.01L492.65 54.88L488.15 54.88Z" fill="#f09050"/>
<text x="495.8" y="55.22" font-size="5.45" font-weight="normal" text-anchor="start" fill="#111" stroke="#111" stroke-width="0.17">patient 8</text>
<path d="M490.4 61.11L492.46 57.71L488.34 57.71Z" fill="none" stroke="#8a8a3a" stroke-width="0.735" stroke-linejoin="miter"/>
<text x="495.8" y="61.1" font-size="5.45" font-weight="normal" text-anchor="start" fill="#111" stroke="#111" stroke-width="0.17">patient 9</text>
<path d="M490.4 62.89L492.53 65.02L490.4 67.15L488.27 65.02Z" fill="none" stroke="#c8307f" stroke-width="0.7"/>
<text x="495.8" y="66.98" font-size="5.45" font-weight="normal" text-anchor="start" fill="#111" stroke="#111" stroke-width="0.17">patient 10</text>
<circle cx="490.4" cy="70.9" r="1.8" fill="#e89a5c"/>
<text x="495.8" y="72.86" font-size="5.45" font-weight="normal" text-anchor="start" fill="#111" stroke="#111" stroke-width="0.17">patient 11</text>
<path d="M490.4 75.09L492.09 77.99L488.71 77.99Z" fill="#9a9a50"/>
<text x="495.8" y="78.74" font-size="5.45" font-weight="normal" text-anchor="start" fill="#111" stroke="#111" stroke-width="0.17">patient 12</text>
<path d="M488.6 82.66H492.2M490.4 80.86V84.46" stroke="#6c8c5c" stroke-width="0.77" fill="none"/>
<text x="495.8" y="84.62" font-size="5.45" font-weight="normal" text-anchor="start" fill="#111" stroke="#111" stroke-width="0.17">patient 13</text>
<path d="M488.87 87.01L491.93 90.07M491.93 87.01L488.87 90.07" stroke="#2a2a95" stroke-width="0.77" fill="none"/>
<text x="495.8" y="90.5" font-size="5.45" font-weight="normal" text-anchor="start" fill="#111" stroke="#111" stroke-width="0.17">patient 14</text>
<circle cx="490.4" cy="94.42" r="1.45" fill="none" stroke="#6a3a9a" stroke-width="0.7"/>
<text x="495.8" y="96.38" font-size="5.45" font-weight="normal" text-anchor="start" fill="#111" stroke="#111" stroke-width="0.17">patient 15</text>
<rect x="488.95" y="98.85" width="2.9" height="2.9" fill="none" stroke="#d04a8a" stroke-width="0.7"/>
<text x="495.8" y="102.26" font-size="5.45" font-weight="normal" text-anchor="start" fill="#111" stroke="#111" stroke-width="0.17">patient 16</text>
<circle cx="490.4" cy="106.18" r="1.8" fill="#e6a050"/>
<text x="495.8" y="108.14" font-size="5.45" font-weight="normal" text-anchor="start" fill="#111" stroke="#111" stroke-width="0.17">patient 17</text>
<rect x="488.6" y="110.26" width="3.6" height="3.6" fill="#8c7c42"/>
<text x="495.8" y="114.02" font-size="5.45" font-weight="normal" text-anchor="start" fill="#111" stroke="#111" stroke-width="0.17">patient 18</text>
<circle cx="490.4" cy="117.94" r="1.8" fill="#d02a6c"/>
<text x="495.8" y="119.9" font-size="5.45" font-weight="normal" text-anchor="start" fill="#111" stroke="#111" stroke-width="0.17">patient 19</text>
<path d="M489.5 125.62L491.3 122.02" stroke="#e8a050" stroke-width="0.84" fill="none"/>
<text x="495.8" y="125.78" font-size="5.45" font-weight="normal" text-anchor="start" fill="#111" stroke="#111" stroke-width="0.17">patient 20</text>
<path d="M490.4 127.9V131.5" stroke="#8a8a50" stroke-width="1.1199999999999999" fill="none"/>
<text x="495.8" y="131.66" font-size="5.45" font-weight="normal" text-anchor="start" fill="#111" stroke="#111" stroke-width="0.17">patient 21</text>
<circle cx="490.4" cy="135.58" r="0.81" fill="#6a4a9a"/>
<text x="495.8" y="137.54" font-size="5.45" font-weight="normal" text-anchor="start" fill="#111" stroke="#111" stroke-width="0.17">patient 22</text>
<path d="M490.4 139.66V143.26" stroke="#4a4ab0" stroke-width="0.77" fill="none"/>
<text x="495.8" y="143.42" font-size="5.45" font-weight="normal" text-anchor="start" fill="#111" stroke="#111" stroke-width="0.17">patient 23</text>
<circle cx="490.4" cy="147.34" r="1.8" fill="#23235f"/>
<text x="495.8" y="149.3" font-size="5.45" font-weight="normal" text-anchor="start" fill="#111" stroke="#111" stroke-width="0.17">patient 24</text>
<text transform="translate(3.96 191.57) scale(0.93 1)" font-size="18" font-weight="bold" fill="#000" stroke="#000" stroke-width="0.4">C</text>
<path d="M37.8 200.35L37.8 322.6" stroke="#1a1a1a" stroke-width="1.1" fill="none"/>
<path d="M36.2 200.35L38.8 200.35" stroke="#1a1a1a" stroke-width="1.1" fill="none"/>
<text x="36.9" y="203.3" font-size="8.5" font-weight="normal" text-anchor="end" fill="#111" stroke="#111" stroke-width="0.25">5</text>
<path d="M36.2 224.8L38.8 224.8" stroke="#1a1a1a" stroke-width="1.1" fill="none"/>
<text x="36.9" y="227.75" font-size="8.5" font-weight="normal" text-anchor="end" fill="#111" stroke="#111" stroke-width="0.25">4</text>
<path d="M36.2 249.25L38.8 249.25" stroke="#1a1a1a" stroke-width="1.1" fill="none"/>
<text x="36.9" y="252.2" font-size="8.5" font-weight="normal" text-anchor="end" fill="#111" stroke="#111" stroke-width="0.25">3</text>
<path d="M36.2 273.7L38.8 273.7" stroke="#1a1a1a" stroke-width="1.1" fill="none"/>
<text x="36.9" y="276.65" font-size="8.5" font-weight="normal" text-anchor="end" fill="#111" stroke="#111" stroke-width="0.25">2</text>
<path d="M36.2 298.15L38.8 298.15" stroke="#1a1a1a" stroke-width="1.1" fill="none"/>
<text x="36.9" y="301.1" font-size="8.5" font-weight="normal" text-anchor="end" fill="#111" stroke="#111" stroke-width="0.25">1</text>
<path d="M36.2 322.6L38.8 322.6" stroke="#1a1a1a" stroke-width="1.1" fill="none"/>
<text x="36.9" y="325.55" font-size="8.5" font-weight="normal" text-anchor="end" fill="#111" stroke="#111" stroke-width="0.25">0</text>
<path d="M37.8 322.6L220 322.6" stroke="#1a1a1a" stroke-width="1.1" fill="none"/>
<path d="M52.4 320.6L52.4 323.1" stroke="#1a1a1a" stroke-width="1.1" fill="none"/>
<text x="54" y="331.06" font-size="8.2" font-weight="bold" text-anchor="end" fill="#1a1a1a" transform="rotate(-45 54 331.06)" stroke="#1a1a1a" stroke-width="0.2">pre-MSCT</text>
<path d="M82.76 320.6L82.76 323.1" stroke="#1a1a1a" stroke-width="1.1" fill="none"/>
<text x="84.36" y="331.06" font-size="8.2" font-weight="bold" text-anchor="end" fill="#1a1a1a" transform="rotate(-45 84.36 331.06)" stroke="#1a1a1a" stroke-width="0.2">2w</text>
<path d="M113.12 320.6L113.12 323.1" stroke="#1a1a1a" stroke-width="1.1" fill="none"/>
<text x="114.72" y="331.06" font-size="8.2" font-weight="bold" text-anchor="end" fill="#1a1a1a" transform="rotate(-45 114.72 331.06)" stroke="#1a1a1a" stroke-width="0.2">1m</text>
<path d="M143.48 320.6L143.48 323.1" stroke="#1a1a1a" stroke-width="1.1" fill="none"/>
<text x="145.08" y="331.06" font-size="8.2" font-weight="bold" text-anchor="end" fill="#1a1a1a" transform="rotate(-45 145.08 331.06)" stroke="#1a1a1a" stroke-width="0.2">3m</text>
<path d="M173.84 320.6L173.84 323.1" stroke="#1a1a1a" stroke-width="1.1" fill="none"/>
<text x="175.44" y="331.06" font-size="8.2" font-weight="bold" text-anchor="end" fill="#1a1a1a" transform="rotate(-45 175.44 331.06)" stroke="#1a1a1a" stroke-width="0.2">6m</text>
<path d="M204.2 320.6L204.2 323.1" stroke="#1a1a1a" stroke-width="1.1" fill="none"/>
<text x="205.8" y="331.06" font-size="8.2" font-weight="bold" text-anchor="end" fill="#1a1a1a" transform="rotate(-45 205.8 331.06)" stroke="#1a1a1a" stroke-width="0.2">12m</text>
<text x="18.4" y="258.6" font-size="8.56" font-weight="bold" text-anchor="middle" fill="#1a1a1a" transform="rotate(-90 18.4 258.6)" stroke="#1a1a1a" stroke-width="0.25">Unstimulated saliva flow rate</text>
<text x="28.9" y="258.6" font-size="8.6" font-weight="bold" text-anchor="middle" fill="#1a1a1a" transform="rotate(-90 28.9 258.6)" stroke="#1a1a1a" stroke-width="0.25">(ml/10min)</text>
<path d="M52.4 259.69L54.41 261.7L52.4 263.71L50.38 261.7Z" fill="none" stroke="#c0207a" stroke-width="0.8"/>
<path d="M52.4 290.35L54.33 287.16L50.47 287.16Z" fill="none" stroke="#74742c" stroke-width="0.8400000000000001" stroke-linejoin="miter"/>
<rect x="46.25" y="303.55" width="3.5" height="3.5" fill="#d42a7a"/>
<circle cx="57" cy="308.2" r="1.75" fill="#561a72"/>
<path d="M52.4 306.36L54.04 309.18L50.76 309.18Z" fill="#8a8a3a"/>
<rect x="46.25" y="313.35" width="3.5" height="3.5" fill="#e8924e"/>
<circle cx="52.4" cy="315.1" r="1.75" fill="#e8905a"/>
<path d="M57 316.93L58.92 313.6L55.08 313.6Z" fill="#2a5e30"/>
<circle cx="57" cy="320.5" r="1.75" fill="#1c1c72"/>
<path d="M52.4 320.11L54.29 322L52.4 323.89L50.51 322Z" fill="#1c1cb4"/>
<path d="M82.6 252.59L84.61 254.6L82.6 256.62L80.58 254.6Z" fill="none" stroke="#c0207a" stroke-width="0.8"/>
<path d="M82.6 278.25L84.53 275.06L80.67 275.06Z" fill="none" stroke="#74742c" stroke-width="0.8400000000000001" stroke-linejoin="miter"/>
<rect x="80.85" y="282.25" width="3.5" height="3.5" fill="#d42a7a"/>
<circle cx="78" cy="303.5" r="1.75" fill="#561a72"/>
<path d="M82.6 301.61L84.49 303.5L82.6 305.39L80.71 303.5Z" fill="#1c1cb4"/>
<path d="M87 301.31L89.19 305.07L84.81 305.07Z" fill="#f08a48"/>
<rect x="76.25" y="308.65" width="3.5" height="3.5" fill="#e8924e"/>
<circle cx="82.6" cy="310.4" r="1.75" fill="#e8905a"/>
<path d="M80 305.86L81.64 308.68L78.36 308.68Z" fill="#8a8a3a"/>
<path d="M87 312.32L88.92 309L85.08 309Z" fill="#2a5e30"/>
<circle cx="82.6" cy="317.9" r="1.75" fill="#1c1c72"/>
<path d="M112.7 250.09L114.72 252.1L112.7 254.11L110.69 252.1Z" fill="none" stroke="#c0207a" stroke-width="0.8"/>
<path d="M117 248.21L119.19 251.97L114.81 251.97Z" fill="#f08a48"/>
<path d="M112.7 270.75L114.63 267.56L110.77 267.56Z" fill="none" stroke="#74742c" stroke-width="0.8400000000000001" stroke-linejoin="miter"/>
<rect x="115.25" y="287.05" width="3.5" height="3.5" fill="#d42a7a"/>
<path d="M112.7 291.93L114.62 288.6L110.78 288.6Z" fill="#2a5e30"/>
<circle cx="112.7" cy="300.6" r="1.75" fill="#561a72"/>
<path d="M112.7 307.06L114.34 309.88L111.06 309.88Z" fill="#8a8a3a"/>
<rect x="106.25" y="311.25" width="3.5" height="3.5" fill="#e8924e"/>
<circle cx="112.7" cy="313" r="1.75" fill="#e8905a"/>
<path d="M117 308.51L118.89 310.4L117 312.29L115.11 310.4Z" fill="#1c1cb4"/>
<circle cx="112.7" cy="317.9" r="1.75" fill="#1c1c72"/>
<path d="M143.5 223.41L145.69 227.17L141.31 227.17Z" fill="#f08a48"/>
<rect x="141.75" y="237.75" width="3.5" height="3.5" fill="#d42a7a"/>
<path d="M143.5 259.99L145.51 262L143.5 264.01L141.49 262Z" fill="none" stroke="#c0207a" stroke-width="0.8"/>
<path d="M148 263.85L149.93 260.66L146.07 260.66Z" fill="none" stroke="#74742c" stroke-width="0.8400000000000001" stroke-linejoin="miter"/>
<path d="M143.5 280.12L145.43 276.8L141.57 276.8Z" fill="#2a5e30"/>
<circle cx="143.5" cy="300.8" r="1.75" fill="#561a72"/>
<circle cx="148" cy="300.8" r="1.75" fill="#e8905a"/>
<path d="M139 304.46L140.64 307.28L137.36 307.28Z" fill="#8a8a3a"/>
<path d="M143.5 306.31L145.39 308.2L143.5 310.09L141.61 308.2Z" fill="#1c1cb4"/>
<circle cx="143.5" cy="317.6" r="1.75" fill="#1c1c72"/>
<rect x="146.25" y="315.85" width="3.5" height="3.5" fill="#e8924e"/>
<path d="M174 211.19L176.01 213.2L174 215.21L171.99 213.2Z" fill="none" stroke="#c0207a" stroke-width="0.8"/>
<path d="M178.5 211.01L180.69 214.77L176.31 214.77Z" fill="#f08a48"/>
<path d="M174 275.85L175.93 272.66L172.07 272.66Z" fill="none" stroke="#74742c" stroke-width="0.8400000000000001" stroke-linejoin="miter"/>
<circle cx="174" cy="288.7" r="1.75" fill="#561a72"/>
<path d="M169.5 297.53L171.43 294.2L167.57 294.2Z" fill="#2a5e30"/>
<rect x="172.25" y="295.95" width="3.5" height="3.5" fill="#d42a7a"/>
<circle cx="174" cy="305.5" r="1.75" fill="#e8905a"/>
<path d="M169.5 308.06L171.14 310.88L167.86 310.88Z" fill="#8a8a3a"/>
<rect x="172.25" y="307.95" width="3.5" height="3.5" fill="#e8924e"/>
<circle cx="174" cy="317.6" r="1.75" fill="#1c1c72"/>
<path d="M178.5 313.21L180.39 315.1L178.5 316.99L176.61 315.1Z" fill="#1c1cb4"/>
<path d="M204.2 216.11L206.39 219.88L202.01 219.88Z" fill="#f08a48"/>
<path d="M204.2 233.29L206.21 235.3L204.2 237.31L202.19 235.3Z" fill="none" stroke="#c0207a" stroke-width="0.8"/>
<rect x="202.45" y="252.85" width="3.5" height="3.5" fill="#d42a7a"/>
<path d="M204.2 265.85L206.13 262.66L202.27 262.66Z" fill="none" stroke="#74742c" stroke-width="0.8400000000000001" stroke-linejoin="miter"/>
<path d="M199.7 294.82L201.62 291.5L197.77 291.5Z" fill="#2a5e30"/>
<circle cx="204.2" cy="296.2" r="1.75" fill="#561a72"/>
<path d="M208.7 301.36L210.34 304.18L207.06 304.18Z" fill="#8a8a3a"/>
<circle cx="204.2" cy="305.5" r="1.75" fill="#e8905a"/>
<rect x="202.45" y="311.65" width="3.5" height="3.5" fill="#e8924e"/>
<path d="M208.7 315.71L210.59 317.6L208.7 319.49L206.81 317.6Z" fill="#1c1cb4"/>
<circle cx="204.2" cy="320.2" r="1.75" fill="#1c1c72"/>
<path d="M41.5 307L63.1 307" stroke="#000" stroke-width="2" fill="none"/>
<path d="M71.7 298.3L93.7 298.3" stroke="#000" stroke-width="2" fill="none"/>
<path d="M101.7 292L124.2 292" stroke="#000" stroke-width="2" fill="none"/>
<path d="M133 283.4L154.4 283.4" stroke="#000" stroke-width="2" fill="none"/>
<path d="M162.8 285.7L185.3 285.7" stroke="#000" stroke-width="2" fill="none"/>
<path d="M193.3 283.6L215.3 283.6" stroke="#000" stroke-width="2" fill="none"/>
<circle cx="224.9" cy="219.7" r="1.7" fill="#1c1c72"/>
<text x="230.9" y="221.55" font-size="5.15" font-weight="normal" text-anchor="start" fill="#111" stroke="#111" stroke-width="0.17">patient 1</text>
<rect x="223.2" y="226.83" width="3.4" height="3.4" fill="#e8924e"/>
<text x="230.9" y="230.38" font-size="5.15" font-weight="normal" text-anchor="start" fill="#111" stroke="#111" stroke-width="0.17">patient 2</text>
<path d="M224.9 235.77L226.49 238.51L223.31 238.51Z" fill="#8a8a3a"/>
<text x="230.9" y="239.21" font-size="5.15" font-weight="normal" text-anchor="start" fill="#111" stroke="#111" stroke-width="0.17">patient 3</text>
<path d="M224.9 248.06L226.77 244.83L223.03 244.83Z" fill="#2a5e30"/>
<text x="230.9" y="248.04" font-size="5.15" font-weight="normal" text-anchor="start" fill="#111" stroke="#111" stroke-width="0.17">patient 4</text>
<path d="M224.9 253.18L226.74 255.02L224.9 256.86L223.06 255.02Z" fill="#1c1cb4"/>
<text x="230.9" y="256.87" font-size="5.15" font-weight="normal" text-anchor="start" fill="#111" stroke="#111" stroke-width="0.17">patient 5</text>
<circle cx="224.9" cy="263.85" r="1.7" fill="#561a72"/>
<text x="230.9" y="265.7" font-size="5.15" font-weight="normal" text-anchor="start" fill="#111" stroke="#111" stroke-width="0.17">patient 6</text>
<rect x="223.2" y="270.98" width="3.4" height="3.4" fill="#d42a7a"/>
<text x="230.9" y="274.53" font-size="5.15" font-weight="normal" text-anchor="start" fill="#111" stroke="#111" stroke-width="0.17">patient 7</text>
<path d="M224.9 279.38L227.03 283.04L222.78 283.04Z" fill="#f08a48"/>
<text x="230.9" y="283.36" font-size="5.15" font-weight="normal" text-anchor="start" fill="#111" stroke="#111" stroke-width="0.17">patient 8</text>
<path d="M224.9 292.18L226.82 289L222.98 289Z" fill="none" stroke="#74742c" stroke-width="0.735" stroke-linejoin="miter"/>
<text x="230.9" y="292.19" font-size="5.15" font-weight="normal" text-anchor="start" fill="#111" stroke="#111" stroke-width="0.17">patient 9</text>
<path d="M224.9 297.17L226.9 299.17L224.9 301.17L222.9 299.17Z" fill="none" stroke="#c0207a" stroke-width="0.7"/>
<text x="230.9" y="301.02" font-size="5.15" font-weight="normal" text-anchor="start" fill="#111" stroke="#111" stroke-width="0.17">patient 10</text>
<circle cx="224.9" cy="308" r="1.7" fill="#e8905a"/>
<text x="230.9" y="309.85" font-size="5.15" font-weight="normal" text-anchor="start" fill="#111" stroke="#111" stroke-width="0.17">patient 11</text>
<text transform="translate(276.93 191.65) scale(0.93 1)" font-size="18" font-weight="bold" fill="#000" stroke="#000" stroke-width="0.4">D</text>
<path d="M305.8 203.3L305.8 320.6" stroke="#1a1a1a" stroke-width="1.1" fill="none"/>
<path d="M304.2 203.3L306.8 203.3" stroke="#1a1a1a" stroke-width="1.1" fill="none"/>
<text x="304.9" y="206.25" font-size="8.5" font-weight="normal" text-anchor="end" fill="#111" stroke="#111" stroke-width="0.25">15</text>
<path d="M304.2 242.4L306.8 242.4" stroke="#1a1a1a" stroke-width="1.1" fill="none"/>
<text x="304.9" y="245.35" font-size="8.5" font-weight="normal" text-anchor="end" fill="#111" stroke="#111" stroke-width="0.25">10</text>
<path d="M304.2 281.5L306.8 281.5" stroke="#1a1a1a" stroke-width="1.1" fill="none"/>
<text x="304.9" y="284.45" font-size="8.5" font-weight="normal" text-anchor="end" fill="#111" stroke="#111" stroke-width="0.25">5</text>
<path d="M304.2 320.6L306.8 320.6" stroke="#1a1a1a" stroke-width="1.1" fill="none"/>
<text x="304.9" y="323.55" font-size="8.5" font-weight="normal" text-anchor="end" fill="#111" stroke="#111" stroke-width="0.25">0</text>
<path d="M305.8 320.6L482.5 320.6" stroke="#1a1a1a" stroke-width="1.1" fill="none"/>
<path d="M320.2 318.6L320.2 321.1" stroke="#1a1a1a" stroke-width="1.1" fill="none"/>
<text x="322.7" y="329.1" font-size="8" font-weight="bold" text-anchor="end" fill="#1a1a1a" transform="rotate(-45 322.7 329.1)" stroke="#1a1a1a" stroke-width="0.2">pre-MSCT</text>
<path d="M349.58 318.6L349.58 321.1" stroke="#1a1a1a" stroke-width="1.1" fill="none"/>
<text x="352.08" y="329.1" font-size="8" font-weight="bold" text-anchor="end" fill="#1a1a1a" transform="rotate(-45 352.08 329.1)" stroke="#1a1a1a" stroke-width="0.2">2w</text>
<path d="M378.96 318.6L378.96 321.1" stroke="#1a1a1a" stroke-width="1.1" fill="none"/>
<text x="381.46" y="329.1" font-size="8" font-weight="bold" text-anchor="end" fill="#1a1a1a" transform="rotate(-45 381.46 329.1)" stroke="#1a1a1a" stroke-width="0.2">1m</text>
<path d="M408.34 318.6L408.34 321.1" stroke="#1a1a1a" stroke-width="1.1" fill="none"/>
<text x="410.84" y="329.1" font-size="8" font-weight="bold" text-anchor="end" fill="#1a1a1a" transform="rotate(-45 410.84 329.1)" stroke="#1a1a1a" stroke-width="0.2">3m</text>
<path d="M437.72 318.6L437.72 321.1" stroke="#1a1a1a" stroke-width="1.1" fill="none"/>
<text x="440.22" y="329.1" font-size="8" font-weight="bold" text-anchor="end" fill="#1a1a1a" transform="rotate(-45 440.22 329.1)" stroke="#1a1a1a" stroke-width="0.2">6m</text>
<path d="M467.1 318.6L467.1 321.1" stroke="#1a1a1a" stroke-width="1.1" fill="none"/>
<text x="469.6" y="329.1" font-size="8" font-weight="bold" text-anchor="end" fill="#1a1a1a" transform="rotate(-45 469.6 329.1)" stroke="#1a1a1a" stroke-width="0.2">12m</text>
<text x="282.3" y="258.5" font-size="8.67" font-weight="bold" text-anchor="middle" fill="#1a1a1a" transform="rotate(-90 282.3 258.5)" stroke="#1a1a1a" stroke-width="0.25">Stimulated saliva flow rate</text>
<text x="293.4" y="259" font-size="8.4" font-weight="bold" text-anchor="middle" fill="#1a1a1a" transform="rotate(-90 293.4 259)" stroke="#1a1a1a" stroke-width="0.25">(ml/6min)</text>
<rect x="318.45" y="268.05" width="3.5" height="3.5" fill="#d42a7a"/>
<path d="M316 281.81L318.19 285.57L313.81 285.57Z" fill="#f08a48"/>
<path d="M320.2 280.79L322.21 282.8L320.2 284.81L318.19 282.8Z" fill="none" stroke="#c0207a" stroke-width="0.8"/>
<rect x="318.45" y="286.25" width="3.5" height="3.5" fill="#e8924e"/>
<circle cx="324.5" cy="288" r="1.75" fill="#e8905a"/>
<path d="M320.2 293.93L322.12 290.6L318.27 290.6Z" fill="#2a5e30"/>
<path d="M316 303.66L317.64 306.48L314.36 306.48Z" fill="#8a8a3a"/>
<path d="M324.5 305.35L326.43 302.16L322.57 302.16Z" fill="none" stroke="#74742c" stroke-width="0.8400000000000001" stroke-linejoin="miter"/>
<circle cx="320.2" cy="310.4" r="1.75" fill="#561a72"/>
<path d="M324.5 312.51L326.39 314.4L324.5 316.29L322.61 314.4Z" fill="#1c1cb4"/>
<circle cx="320.2" cy="316.5" r="1.75" fill="#1c1c72"/>
<rect x="347.85" y="252.45" width="3.5" height="3.5" fill="#d42a7a"/>
<path d="M349.6 278.69L351.62 280.7L349.6 282.71L347.59 280.7Z" fill="none" stroke="#c0207a" stroke-width="0.8"/>
<circle cx="345" cy="285.9" r="1.75" fill="#e8905a"/>
<rect x="347.85" y="283.25" width="3.5" height="3.5" fill="#e8924e"/>
<path d="M349.6 289.93L351.53 286.6L347.68 286.6Z" fill="#2a5e30"/>
<rect x="352.25" y="283.65" width="3.5" height="3.5" fill="#e8924e"/>
<path d="M354 296.75L355.93 293.56L352.07 293.56Z" fill="none" stroke="#74742c" stroke-width="0.8400000000000001" stroke-linejoin="miter"/>
<path d="M349.6 297.56L351.24 300.38L347.96 300.38Z" fill="#8a8a3a"/>
<circle cx="349.6" cy="308.4" r="1.75" fill="#561a72"/>
<path d="M349.6 311.11L351.49 313L349.6 314.89L347.71 313Z" fill="#1c1cb4"/>
<circle cx="354" cy="310.4" r="1.75" fill="#1c1c72"/>
<path d="M379 240.31L381.19 244.07L376.81 244.07Z" fill="#f08a48"/>
<rect x="377.25" y="267.15" width="3.5" height="3.5" fill="#d42a7a"/>
<path d="M379 271.79L381.01 273.8L379 275.81L376.99 273.8Z" fill="none" stroke="#c0207a" stroke-width="0.8"/>
<path d="M374.5 284.73L376.43 281.4L372.57 281.4Z" fill="#2a5e30"/>
<rect x="377.25" y="283.25" width="3.5" height="3.5" fill="#e8924e"/>
<circle cx="383.5" cy="285" r="1.75" fill="#e8905a"/>
<path d="M374.5 300.75L376.43 297.56L372.57 297.56Z" fill="none" stroke="#74742c" stroke-width="0.8400000000000001" stroke-linejoin="miter"/>
<path d="M379 298.96L380.64 301.78L377.36 301.78Z" fill="#8a8a3a"/>
<path d="M374.5 307.31L376.39 309.2L374.5 311.09L372.61 309.2Z" fill="#1c1cb4"/>
<circle cx="379" cy="310.4" r="1.75" fill="#1c1c72"/>
<circle cx="383.5" cy="309.2" r="1.75" fill="#561a72"/>
<path d="M408.3 240.61L410.49 244.38L406.11 244.38Z" fill="#f08a48"/>
<rect x="406.55" y="261.15" width="3.5" height="3.5" fill="#d42a7a"/>
<circle cx="412.7" cy="274.4" r="1.75" fill="#e8905a"/>
<path d="M408.3 276.38L410.31 278.4L408.3 280.41L406.29 278.4Z" fill="none" stroke="#c0207a" stroke-width="0.8"/>
<rect x="406.55" y="282.15" width="3.5" height="3.5" fill="#e8924e"/>
<path d="M408.3 291.25L410.23 288.06L406.37 288.06Z" fill="none" stroke="#74742c" stroke-width="0.8400000000000001" stroke-linejoin="miter"/>
<path d="M408.3 298.16L409.94 300.98L406.66 300.98Z" fill="#8a8a3a"/>
<circle cx="404" cy="308.2" r="1.75" fill="#561a72"/>
<circle cx="408.3" cy="311.4" r="1.75" fill="#1c1c72"/>
<path d="M412.7 309.51L414.59 311.4L412.7 313.29L410.81 311.4Z" fill="#1c1cb4"/>
<path d="M437.5 240.61L439.69 244.38L435.31 244.38Z" fill="#f08a48"/>
<rect x="431.25" y="268.85" width="3.5" height="3.5" fill="#d42a7a"/>
<path d="M437.5 270.38L439.51 272.4L437.5 274.41L435.49 272.4Z" fill="none" stroke="#c0207a" stroke-width="0.8"/>
<rect x="435.75" y="276.15" width="3.5" height="3.5" fill="#e8924e"/>
<path d="M433 286.43L434.93 283.1L431.07 283.1Z" fill="#2a5e30"/>
<path d="M437.5 288.66L439.14 291.48L435.86 291.48Z" fill="#8a8a3a"/>
<circle cx="433" cy="295.4" r="1.75" fill="#561a72"/>
<path d="M437.5 297.25L439.43 294.06L435.57 294.06Z" fill="none" stroke="#74742c" stroke-width="0.8400000000000001" stroke-linejoin="miter"/>
<path d="M437.5 314.01L439.39 315.9L437.5 317.79L435.61 315.9Z" fill="#1c1cb4"/>
<circle cx="441.9" cy="313.2" r="1.75" fill="#1c1c72"/>
<path d="M467.1 248.31L469.29 252.07L464.91 252.07Z" fill="#f08a48"/>
<rect x="465.35" y="270.65" width="3.5" height="3.5" fill="#d42a7a"/>
<circle cx="471.5" cy="275.2" r="1.75" fill="#e8905a"/>
<path d="M467.1 275.88L469.12 277.9L467.1 279.91L465.09 277.9Z" fill="none" stroke="#c0207a" stroke-width="0.8"/>
<path d="M462.7 286.35L464.63 283.16L460.77 283.16Z" fill="none" stroke="#74742c" stroke-width="0.8400000000000001" stroke-linejoin="miter"/>
<rect x="465.35" y="282.75" width="3.5" height="3.5" fill="#e8924e"/>
<path d="M471.5 291.32L473.43 288L469.57 288Z" fill="#2a5e30"/>
<path d="M467.1 289.56L468.74 292.38L465.46 292.38Z" fill="#8a8a3a"/>
<circle cx="467.1" cy="303.5" r="1.75" fill="#561a72"/>
<circle cx="467.1" cy="313.2" r="1.75" fill="#1c1c72"/>
<path d="M471.5 311.31L473.39 313.2L471.5 315.09L469.61 313.2Z" fill="#1c1cb4"/>
<path d="M309.8 296.1L331 296.1" stroke="#000" stroke-width="2" fill="none"/>
<path d="M339.3 291.4L360.4 291.4" stroke="#000" stroke-width="2" fill="none"/>
<path d="M368.7 288L389.8 288" stroke="#000" stroke-width="2" fill="none"/>
<path d="M397.7 286.1L418.9 286.1" stroke="#000" stroke-width="2" fill="none"/>
<path d="M427.5 285.4L448.5 285.4" stroke="#000" stroke-width="2" fill="none"/>
<path d="M456.7 287L477.8 287" stroke="#000" stroke-width="2" fill="none"/>
<circle cx="489.6" cy="217" r="1.65" fill="#1c1c72"/>
<text x="495.1" y="218.84" font-size="5.1" font-weight="normal" text-anchor="start" fill="#111" stroke="#111" stroke-width="0.17">patient 1</text>
<rect x="487.95" y="223.86" width="3.3" height="3.3" fill="#e8924e"/>
<text x="495.1" y="227.35" font-size="5.1" font-weight="normal" text-anchor="start" fill="#111" stroke="#111" stroke-width="0.17">patient 2</text>
<path d="M489.6 232.47L491.15 235.13L488.05 235.13Z" fill="#8a8a3a"/>
<text x="495.1" y="235.86" font-size="5.1" font-weight="normal" text-anchor="start" fill="#111" stroke="#111" stroke-width="0.17">patient 3</text>
<path d="M489.6 244.34L491.42 241.21L487.79 241.21Z" fill="#2a5e30"/>
<text x="495.1" y="244.37" font-size="5.1" font-weight="normal" text-anchor="start" fill="#111" stroke="#111" stroke-width="0.17">patient 4</text>
<path d="M489.6 249.26L491.38 251.04L489.6 252.82L487.82 251.04Z" fill="#1c1cb4"/>
<text x="495.1" y="252.88" font-size="5.1" font-weight="normal" text-anchor="start" fill="#111" stroke="#111" stroke-width="0.17">patient 5</text>
<circle cx="489.6" cy="259.55" r="1.65" fill="#561a72"/>
<text x="495.1" y="261.39" font-size="5.1" font-weight="normal" text-anchor="start" fill="#111" stroke="#111" stroke-width="0.17">patient 6</text>
<rect x="487.95" y="266.41" width="3.3" height="3.3" fill="#d42a7a"/>
<text x="495.1" y="269.9" font-size="5.1" font-weight="normal" text-anchor="start" fill="#111" stroke="#111" stroke-width="0.17">patient 7</text>
<path d="M489.6 274.51L491.66 278.06L487.54 278.06Z" fill="#f08a48"/>
<text x="495.1" y="278.41" font-size="5.1" font-weight="normal" text-anchor="start" fill="#111" stroke="#111" stroke-width="0.17">patient 8</text>
<path d="M489.6 286.85L491.45 283.79L487.75 283.79Z" fill="none" stroke="#74742c" stroke-width="0.735" stroke-linejoin="miter"/>
<text x="495.1" y="286.92" font-size="5.1" font-weight="normal" text-anchor="start" fill="#111" stroke="#111" stroke-width="0.17">patient 9</text>
<path d="M489.6 291.66L491.53 293.59L489.6 295.52L487.67 293.59Z" fill="none" stroke="#c0207a" stroke-width="0.7"/>
<text x="495.1" y="295.43" font-size="5.1" font-weight="normal" text-anchor="start" fill="#111" stroke="#111" stroke-width="0.17">patien t10</text>
<circle cx="489.6" cy="302.1" r="1.65" fill="#e8905a"/>
<text x="495.1" y="303.94" font-size="5.1" font-weight="normal" text-anchor="start" fill="#111" stroke="#111" stroke-width="0.17">patient 11</text>
<text transform="translate(3.53 396.05) scale(0.93 1)" font-size="18" font-weight="bold" fill="#000" stroke="#000" stroke-width="0.4">E</text>
<path d="M25.9 399.3L25.9 528.1" stroke="#1a1a1a" stroke-width="1.1" fill="none"/>
<path d="M24.3 399.3L26.9 399.3" stroke="#1a1a1a" stroke-width="1.1" fill="none"/>
<text x="25" y="402.25" font-size="8.5" font-weight="normal" text-anchor="end" fill="#111" stroke="#111" stroke-width="0.25">4</text>
<path d="M24.3 431.5L26.9 431.5" stroke="#1a1a1a" stroke-width="1.1" fill="none"/>
<text x="25" y="434.45" font-size="8.5" font-weight="normal" text-anchor="end" fill="#111" stroke="#111" stroke-width="0.25">3</text>
<path d="M24.3 463.7L26.9 463.7" stroke="#1a1a1a" stroke-width="1.1" fill="none"/>
<text x="25" y="466.65" font-size="8.5" font-weight="normal" text-anchor="end" fill="#111" stroke="#111" stroke-width="0.25">2</text>
<path d="M24.3 495.9L26.9 495.9" stroke="#1a1a1a" stroke-width="1.1" fill="none"/>
<text x="25" y="498.85" font-size="8.5" font-weight="normal" text-anchor="end" fill="#111" stroke="#111" stroke-width="0.25">1</text>
<path d="M24.3 528.1L26.9 528.1" stroke="#1a1a1a" stroke-width="1.1" fill="none"/>
<text x="25" y="531.05" font-size="8.5" font-weight="normal" text-anchor="end" fill="#111" stroke="#111" stroke-width="0.25">0</text>
<path d="M25.9 528.3L220 528.3" stroke="#1a1a1a" stroke-width="1.1" fill="none"/>
<path d="M42.4 526.3L42.4 528.8" stroke="#1a1a1a" stroke-width="1.1" fill="none"/>
<text x="44.9" y="538.2" font-size="9" font-weight="bold" text-anchor="end" fill="#1a1a1a" transform="rotate(-45 44.9 538.2)" stroke="#1a1a1a" stroke-width="0.2">pre-MSCT</text>
<path d="M74.56 526.3L74.56 528.8" stroke="#1a1a1a" stroke-width="1.1" fill="none"/>
<text x="77.06" y="538.2" font-size="9" font-weight="bold" text-anchor="end" fill="#1a1a1a" transform="rotate(-45 77.06 538.2)" stroke="#1a1a1a" stroke-width="0.2">2w</text>
<path d="M106.72 526.3L106.72 528.8" stroke="#1a1a1a" stroke-width="1.1" fill="none"/>
<text x="109.22" y="538.2" font-size="9" font-weight="bold" text-anchor="end" fill="#1a1a1a" transform="rotate(-45 109.22 538.2)" stroke="#1a1a1a" stroke-width="0.2">1m</text>
<path d="M138.88 526.3L138.88 528.8" stroke="#1a1a1a" stroke-width="1.1" fill="none"/>
<text x="141.38" y="538.2" font-size="9" font-weight="bold" text-anchor="end" fill="#1a1a1a" transform="rotate(-45 141.38 538.2)" stroke="#1a1a1a" stroke-width="0.2">3m</text>
<path d="M171.04 526.3L171.04 528.8" stroke="#1a1a1a" stroke-width="1.1" fill="none"/>
<text x="173.54" y="538.2" font-size="9" font-weight="bold" text-anchor="end" fill="#1a1a1a" transform="rotate(-45 173.54 538.2)" stroke="#1a1a1a" stroke-width="0.2">6m</text>
<path d="M203.2 526.3L203.2 528.8" stroke="#1a1a1a" stroke-width="1.1" fill="none"/>
<text x="205.7" y="538.2" font-size="9" font-weight="bold" text-anchor="end" fill="#1a1a1a" transform="rotate(-45 205.7 538.2)" stroke="#1a1a1a" stroke-width="0.2">12m</text>
<text x="16.3" y="460.9" font-size="9.2" font-weight="bold" text-anchor="middle" fill="#1a1a1a" transform="rotate(-90 16.3 460.9)" stroke="#1a1a1a" stroke-width="0.25">TESS</text>
<rect x="32.75" y="429.45" width="3.5" height="3.5" fill="#e8924e"/>
<path d="M37 429.56L38.64 432.38L35.36 432.38Z" fill="#8a8a3a"/>
<circle cx="39.5" cy="431.2" r="1.75" fill="#e8905a"/>
<circle cx="42" cy="431.2" r="1.75" fill="#561a72"/>
<circle cx="44.5" cy="431.2" r="1.75" fill="#1c1c72"/>
<path d="M46.5 429.31L48.39 431.2L46.5 433.09L44.61 431.2Z" fill="#1c1cb4"/>
<path d="M48.5 429.56L50.14 432.38L46.86 432.38Z" fill="#8a8a3a"/>
<path d="M37.5 465.35L39.43 462.16L35.57 462.16Z" fill="none" stroke="#74742c" stroke-width="0.8400000000000001" stroke-linejoin="miter"/>
<rect x="38.25" y="461.75" width="3.5" height="3.5" fill="#d42a7a"/>
<circle cx="42.5" cy="463.5" r="1.75" fill="#561a72"/>
<path d="M45.5 461.49L47.52 463.5L45.5 465.51L43.48 463.5Z" fill="none" stroke="#c0207a" stroke-width="0.8"/>
<path d="M48.5 461.49L50.52 463.5L48.5 465.51L46.48 463.5Z" fill="none" stroke="#c0207a" stroke-width="0.8"/>
<path d="M70.2 433.12L72.12 429.8L68.28 429.8Z" fill="#2a5e30"/>
<path d="M74.7 429.56L76.34 432.38L73.06 432.38Z" fill="#8a8a3a"/>
<circle cx="79.2" cy="431.2" r="1.75" fill="#1c1c72"/>
<rect x="64.75" y="461.75" width="3.5" height="3.5" fill="#e8924e"/>
<circle cx="69" cy="463.5" r="1.75" fill="#e8905a"/>
<rect x="69.75" y="461.75" width="3.5" height="3.5" fill="#d42a7a"/>
<circle cx="74.5" cy="463.5" r="1.75" fill="#561a72"/>
<path d="M77.5 461.61L79.39 463.5L77.5 465.39L75.61 463.5Z" fill="#1c1cb4"/>
<path d="M80.5 461.49L82.52 463.5L80.5 465.51L78.48 463.5Z" fill="none" stroke="#c0207a" stroke-width="0.8"/>
<path d="M74.5 497.65L76.43 494.46L72.57 494.46Z" fill="none" stroke="#74742c" stroke-width="0.8400000000000001" stroke-linejoin="miter"/>
<circle cx="79" cy="495.8" r="1.75" fill="#e8905a"/>
<path d="M106.9 429.31L108.79 431.2L106.9 433.09L105.01 431.2Z" fill="#1c1cb4"/>
<circle cx="111.4" cy="431.2" r="1.75" fill="#1c1c72"/>
<path d="M99.5 461.86L101.14 464.68L97.86 464.68Z" fill="#8a8a3a"/>
<circle cx="103" cy="463.5" r="1.75" fill="#561a72"/>
<rect x="104.25" y="461.75" width="3.5" height="3.5" fill="#d42a7a"/>
<path d="M109.5 461.49L111.52 463.5L109.5 465.51L107.48 463.5Z" fill="none" stroke="#c0207a" stroke-width="0.8"/>
<circle cx="112.5" cy="463.5" r="1.75" fill="#e8905a"/>
<rect x="99.65" y="494.05" width="3.5" height="3.5" fill="#e8924e"/>
<circle cx="106.4" cy="495.8" r="1.75" fill="#e8905a"/>
<path d="M111.4 497.65L113.33 494.46L109.47 494.46Z" fill="none" stroke="#74742c" stroke-width="0.8400000000000001" stroke-linejoin="miter"/>
<circle cx="138.7" cy="431.2" r="1.75" fill="#1c1c72"/>
<path d="M143.5 429.31L145.39 431.2L143.5 433.09L141.61 431.2Z" fill="#1c1cb4"/>
<circle cx="133" cy="463.5" r="1.75" fill="#561a72"/>
<rect x="134.25" y="461.75" width="3.5" height="3.5" fill="#d42a7a"/>
<path d="M139 461.49L141.01 463.5L139 465.51L136.99 463.5Z" fill="none" stroke="#c0207a" stroke-width="0.8"/>
<circle cx="142" cy="463.5" r="1.75" fill="#1c1c72"/>
<circle cx="145" cy="463.5" r="1.75" fill="#561a72"/>
<path d="M138.5 493.61L140.69 497.38L136.31 497.38Z" fill="#f08a48"/>
<rect x="141.75" y="494.05" width="3.5" height="3.5" fill="#e8924e"/>
<path d="M171.3 429.31L173.19 431.2L171.3 433.09L169.41 431.2Z" fill="#1c1cb4"/>
<path d="M167.5 465.35L169.43 462.16L165.57 462.16Z" fill="none" stroke="#74742c" stroke-width="0.8400000000000001" stroke-linejoin="miter"/>
<rect x="169.25" y="461.75" width="3.5" height="3.5" fill="#d42a7a"/>
<circle cx="174" cy="463.5" r="1.75" fill="#561a72"/>
<path d="M166 497.65L167.93 494.46L164.07 494.46Z" fill="none" stroke="#74742c" stroke-width="0.8400000000000001" stroke-linejoin="miter"/>
<rect x="167.75" y="494.05" width="3.5" height="3.5" fill="#e8924e"/>
<circle cx="172.5" cy="495.8" r="1.75" fill="#561a72"/>
<path d="M176 493.79L178.01 495.8L176 497.81L173.99 495.8Z" fill="none" stroke="#c0207a" stroke-width="0.8"/>
<path d="M203.2 429.31L205.09 431.2L203.2 433.09L201.31 431.2Z" fill="#1c1cb4"/>
<circle cx="198.7" cy="463.5" r="1.75" fill="#1c1c72"/>
<path d="M203.2 465.35L205.13 462.16L201.27 462.16Z" fill="none" stroke="#74742c" stroke-width="0.8400000000000001" stroke-linejoin="miter"/>
<path d="M207 461.86L208.64 464.68L205.36 464.68Z" fill="#8a8a3a"/>
<path d="M197.5 493.79L199.51 495.8L197.5 497.81L195.49 495.8Z" fill="none" stroke="#c0207a" stroke-width="0.8"/>
<rect x="199.25" y="494.05" width="3.5" height="3.5" fill="#d42a7a"/>
<circle cx="205" cy="495.8" r="1.75" fill="#561a72"/>
<circle cx="208.5" cy="495.8" r="1.75" fill="#1c1c72"/>
<path d="M203.2 525.31L205.39 529.08L201.01 529.08Z" fill="#f08a48"/>
<path d="M30.8 445.7L54 445.7" stroke="#000" stroke-width="2" fill="none"/>
<path d="M62.7 460.6L86.3 460.6" stroke="#000" stroke-width="2" fill="none"/>
<path d="M95.2 466.4L118.5 466.4" stroke="#000" stroke-width="2" fill="none"/>
<path d="M127.7 463.5L150.6 463.5" stroke="#000" stroke-width="2" fill="none"/>
<path d="M159.7 475.5L182.9 475.5" stroke="#000" stroke-width="2" fill="none"/>
<path d="M192 481.5L215.2 481.5" stroke="#000" stroke-width="2" fill="none"/>
<circle cx="220.6" cy="417" r="2" fill="#1c1c72"/>
<text x="226.8" y="419" font-size="5.55" font-weight="normal" text-anchor="start" fill="#111" stroke="#111" stroke-width="0.17">patient 1</text>
<rect x="218.6" y="424.39" width="4" height="4" fill="#e8924e"/>
<text x="226.8" y="428.39" font-size="5.55" font-weight="normal" text-anchor="start" fill="#111" stroke="#111" stroke-width="0.17">patient 2</text>
<path d="M220.6 433.9L222.47 437.13L218.72 437.13Z" fill="#8a8a3a"/>
<text x="226.8" y="437.78" font-size="5.55" font-weight="normal" text-anchor="start" fill="#111" stroke="#111" stroke-width="0.17">patient 3</text>
<path d="M220.6 447.37L222.8 443.57L218.4 443.57Z" fill="#2a5e30"/>
<text x="226.8" y="447.17" font-size="5.55" font-weight="normal" text-anchor="start" fill="#111" stroke="#111" stroke-width="0.17">patient 4</text>
<path d="M220.6 452.4L222.76 454.56L220.6 456.72L218.44 454.56Z" fill="#1c1cb4"/>
<text x="226.8" y="456.56" font-size="5.55" font-weight="normal" text-anchor="start" fill="#111" stroke="#111" stroke-width="0.17">patient 5</text>
<circle cx="220.6" cy="463.95" r="2" fill="#561a72"/>
<text x="226.8" y="465.95" font-size="5.55" font-weight="normal" text-anchor="start" fill="#111" stroke="#111" stroke-width="0.17">patient 6</text>
<rect x="218.6" y="471.34" width="4" height="4" fill="#d42a7a"/>
<text x="226.8" y="475.34" font-size="5.55" font-weight="normal" text-anchor="start" fill="#111" stroke="#111" stroke-width="0.17">patient 7</text>
<path d="M220.6 480.23L223.1 484.53L218.1 484.53Z" fill="#f08a48"/>
<text x="226.8" y="484.73" font-size="5.55" font-weight="normal" text-anchor="start" fill="#111" stroke="#111" stroke-width="0.17">patient 8</text>
<path d="M220.6 494.36L222.94 490.49L218.26 490.49Z" fill="none" stroke="#74742c" stroke-width="0.735" stroke-linejoin="miter"/>
<text x="226.8" y="494.12" font-size="5.55" font-weight="normal" text-anchor="start" fill="#111" stroke="#111" stroke-width="0.17">patient 9</text>
<path d="M220.6 499.1L223.01 501.51L220.6 503.92L218.19 501.51Z" fill="none" stroke="#c0207a" stroke-width="0.7"/>
<text x="226.8" y="503.51" font-size="5.55" font-weight="normal" text-anchor="start" fill="#111" stroke="#111" stroke-width="0.17">patient 10</text>
<circle cx="220.6" cy="510.9" r="2" fill="#e8905a"/>
<text x="226.8" y="512.9" font-size="5.55" font-weight="normal" text-anchor="start" fill="#111" stroke="#111" stroke-width="0.17">patient 11</text>
<text transform="translate(276.63 384.25) scale(0.93 1)" font-size="18" font-weight="bold" fill="#000" stroke="#000" stroke-width="0.4">F</text>
<path d="M314.6 376.8L314.6 453.8" stroke="#1a1a1a" stroke-width="2" fill="none"/>
<path d="M314.6 376.8L316 376.8" stroke="#1a1a1a" stroke-width="1.4" fill="none"/>
<text x="314" y="379.45" font-size="5.3" font-weight="bold" text-anchor="end" fill="#111" stroke="#111" stroke-width="0.15">1000</text>
<path d="M314.6 395.8L316 395.8" stroke="#1a1a1a" stroke-width="1.4" fill="none"/>
<text x="314" y="398.45" font-size="5.3" font-weight="bold" text-anchor="end" fill="#111" stroke="#111" stroke-width="0.15">100</text>
<path d="M314.6 414.8L316 414.8" stroke="#1a1a1a" stroke-width="1.4" fill="none"/>
<text x="314" y="417.45" font-size="5.3" font-weight="bold" text-anchor="end" fill="#111" stroke="#111" stroke-width="0.15">10</text>
<path d="M314.6 433.8L316 433.8" stroke="#1a1a1a" stroke-width="1.4" fill="none"/>
<text x="314" y="436.45" font-size="5.3" font-weight="bold" text-anchor="end" fill="#111" stroke="#111" stroke-width="0.15">1</text>
<path d="M314.6 452.8L316 452.8" stroke="#1a1a1a" stroke-width="1.4" fill="none"/>
<text x="314" y="455.45" font-size="5.3" font-weight="bold" text-anchor="end" fill="#111" stroke="#111" stroke-width="0.15">0.1</text>
<path d="M313.6 452.8L427.5 452.8" stroke="#1a1a1a" stroke-width="2" fill="none"/>
<path d="M323.5 451.2L323.5 452.8" stroke="#1a1a1a" stroke-width="1.3" fill="none"/>
<text x="326.3" y="458.1" font-size="5.8" font-weight="bold" text-anchor="end" fill="#111" transform="rotate(-45 326.3 458.1)" stroke="#111" stroke-width="0.12">pre-MSCT</text>
<path d="M342.46 451.2L342.46 452.8" stroke="#1a1a1a" stroke-width="1.3" fill="none"/>
<text x="345.26" y="458.1" font-size="5.8" font-weight="bold" text-anchor="end" fill="#111" transform="rotate(-45 345.26 458.1)" stroke="#111" stroke-width="0.12">2w</text>
<path d="M361.42 451.2L361.42 452.8" stroke="#1a1a1a" stroke-width="1.3" fill="none"/>
<text x="364.22" y="458.1" font-size="5.8" font-weight="bold" text-anchor="end" fill="#111" transform="rotate(-45 364.22 458.1)" stroke="#111" stroke-width="0.12">1m</text>
<path d="M380.38 451.2L380.38 452.8" stroke="#1a1a1a" stroke-width="1.3" fill="none"/>
<text x="383.18" y="458.1" font-size="5.8" font-weight="bold" text-anchor="end" fill="#111" transform="rotate(-45 383.18 458.1)" stroke="#111" stroke-width="0.12">3m</text>
<path d="M399.34 451.2L399.34 452.8" stroke="#1a1a1a" stroke-width="1.3" fill="none"/>
<text x="402.14" y="458.1" font-size="5.8" font-weight="bold" text-anchor="end" fill="#111" transform="rotate(-45 402.14 458.1)" stroke="#111" stroke-width="0.12">6m</text>
<path d="M418.3 451.2L418.3 452.8" stroke="#1a1a1a" stroke-width="1.3" fill="none"/>
<text x="421.1" y="458.1" font-size="5.8" font-weight="bold" text-anchor="end" fill="#111" transform="rotate(-45 421.1 458.1)" stroke="#111" stroke-width="0.12">12m</text>
<text x="299.9" y="413.3" font-size="7.6" font-weight="bold" text-anchor="middle" fill="#1a1a1a" transform="rotate(-90 299.9 413.3)" stroke="#1a1a1a" stroke-width="0.2">SSA (U/ml)</text>
<path d="M323.5 442.3L342.46 442.3L361.42 434.7" stroke="#2a7a2a" stroke-width="2.1" fill="none" stroke-linejoin="round"/>
<path d="M342.46 442L361.42 441.2L380.38 440.8L399.34 440L418.3 440" stroke="#f0a060" stroke-width="2.1" fill="none" stroke-linejoin="round"/>
<path d="M323.5 412.4L361.42 440L380.38 440.5L399.34 440.3L418.3 440.3" stroke="#8a8a32" stroke-width="2.1" fill="none" stroke-linejoin="round"/>
<path d="M323.5 403.5L342.46 431.8L361.42 441.2L380.38 440.6L399.34 437L418.3 440" stroke="#1e1ed2" stroke-width="2.1" fill="none" stroke-linejoin="round"/>
<path d="M323.5 393L342.46 441.2L361.42 441L380.38 440.5L399.34 440L418.3 440" stroke="#d8308c" stroke-width="2.1" fill="none" stroke-linejoin="round"/>
<circle cx="323.5" cy="393" r="0.9" fill="#d8308c"/>
<circle cx="342.46" cy="441.2" r="0.9" fill="#d8308c"/>
<circle cx="361.42" cy="441" r="0.9" fill="#d8308c"/>
<circle cx="380.38" cy="440.5" r="0.9" fill="#d8308c"/>
<circle cx="399.34" cy="440" r="0.9" fill="#d8308c"/>
<circle cx="418.3" cy="440" r="0.9" fill="#d8308c"/>
<path d="M323.5 388.5L361.42 441.6L380.38 441.2L399.34 440.6L418.3 440.6" stroke="#5a1a8a" stroke-width="2.1" fill="none" stroke-linejoin="round"/>
<circle cx="323.5" cy="388.5" r="2.5" fill="#5a1a8a"/>
<circle cx="361.42" cy="441.6" r="2.5" fill="#5a1a8a"/>
<circle cx="380.38" cy="441.2" r="2.5" fill="#5a1a8a"/>
<circle cx="399.34" cy="440.6" r="2.5" fill="#5a1a8a"/>
<circle cx="418.3" cy="440.6" r="2.5" fill="#5a1a8a"/>
<path d="M323.5 394.7L361.42 442.6L380.38 441.8L399.34 441L418.3 440.6" stroke="#e8308a" stroke-width="2.1" fill="none" stroke-linejoin="round"/>
<rect x="321.2" y="392.4" width="4.6" height="4.6" fill="#e8308a"/>
<rect x="359.12" y="440.3" width="4.6" height="4.6" fill="#e8308a"/>
<rect x="397.04" y="438.7" width="4.6" height="4.6" fill="#e8308a"/>
<rect x="416" y="438.3" width="4.6" height="4.6" fill="#e8308a"/>
<path d="M423.9 383.5L427.5 383.5" stroke="#d8308c" stroke-width="1.5" fill="none"/>
<circle cx="425.7" cy="383.5" r="1.1" fill="#d8308c"/>
<text x="429.5" y="385.5" font-size="5.8" font-weight="normal" text-anchor="start" fill="#111" stroke="#111" stroke-width="0.22">patient 1</text>
<path d="M423.9 392.13L427.5 392.13" stroke="#f0a060" stroke-width="1.5" fill="none"/>
<text x="429.5" y="394.13" font-size="5.8" font-weight="normal" text-anchor="start" fill="#111" stroke="#111" stroke-width="0.22">patient 2</text>
<path d="M423.9 400.76L427.5 400.76" stroke="#8a8a32" stroke-width="1.5" fill="none"/>
<text x="429.5" y="402.76" font-size="5.8" font-weight="normal" text-anchor="start" fill="#111" stroke="#111" stroke-width="0.22">patient 3</text>
<path d="M423.9 409.39L427.5 409.39" stroke="#2a7a2a" stroke-width="1.5" fill="none"/>
<text x="429.5" y="411.39" font-size="5.8" font-weight="normal" text-anchor="start" fill="#111" stroke="#111" stroke-width="0.22">patient 4</text>
<path d="M423.9 418.02L427.5 418.02" stroke="#1e1ed2" stroke-width="1.5" fill="none"/>
<text x="429.5" y="420.02" font-size="5.8" font-weight="normal" text-anchor="start" fill="#111" stroke="#111" stroke-width="0.22">patient 5</text>
<path d="M423.9 426.65L427.5 426.65" stroke="#5a1a8a" stroke-width="1.5" fill="none"/>
<circle cx="425.7" cy="426.65" r="2.4" fill="#5a1a8a"/>
<text x="429.5" y="428.65" font-size="5.8" font-weight="normal" text-anchor="start" fill="#111" stroke="#111" stroke-width="0.22">patient 6</text>
<path d="M423.9 435.28L427.5 435.28" stroke="#e8308a" stroke-width="1.5" fill="none"/>
<rect x="423.4" y="432.98" width="4.6" height="4.6" fill="#e8308a"/>
<text x="429.5" y="437.28" font-size="5.8" font-weight="normal" text-anchor="start" fill="#111" stroke="#111" stroke-width="0.22">patient 7</text>
<text transform="translate(277.06 496.17) scale(0.93 1)" font-size="18" font-weight="bold" fill="#000" stroke="#000" stroke-width="0.4">G</text>
<path d="M314.6 495L314.6 571.5" stroke="#1a1a1a" stroke-width="2" fill="none"/>
<path d="M314.6 495L316 495" stroke="#1a1a1a" stroke-width="1.4" fill="none"/>
<text x="314" y="497" font-size="5.3" font-weight="bold" text-anchor="end" fill="#111" stroke="#111" stroke-width="0.15">1000</text>
<path d="M314.6 510.1L316 510.1" stroke="#1a1a1a" stroke-width="1.4" fill="none"/>
<text x="314" y="512.1" font-size="5.3" font-weight="bold" text-anchor="end" fill="#111" stroke="#111" stroke-width="0.15">100</text>
<path d="M314.6 525.2L316 525.2" stroke="#1a1a1a" stroke-width="1.4" fill="none"/>
<text x="314" y="527.2" font-size="5.3" font-weight="bold" text-anchor="end" fill="#111" stroke="#111" stroke-width="0.15">10</text>
<path d="M314.6 540.3L316 540.3" stroke="#1a1a1a" stroke-width="1.4" fill="none"/>
<text x="314" y="542.3" font-size="5.3" font-weight="bold" text-anchor="end" fill="#111" stroke="#111" stroke-width="0.15">1</text>
<path d="M314.6 555.4L316 555.4" stroke="#1a1a1a" stroke-width="1.4" fill="none"/>
<text x="314" y="557.4" font-size="5.3" font-weight="bold" text-anchor="end" fill="#111" stroke="#111" stroke-width="0.15">0.1</text>
<path d="M314.6 570.5L316 570.5" stroke="#1a1a1a" stroke-width="1.4" fill="none"/>
<text x="314" y="572.5" font-size="5.3" font-weight="bold" text-anchor="end" fill="#111" stroke="#111" stroke-width="0.15">0.01</text>
<path d="M313.6 570.5L428.7 570.5" stroke="#1a1a1a" stroke-width="2" fill="none"/>
<path d="M323.8 568.9L323.8 570.5" stroke="#1a1a1a" stroke-width="1.3" fill="none"/>
<text x="326" y="576.7" font-size="5.8" font-weight="bold" text-anchor="end" fill="#111" transform="rotate(-45 326 576.7)" stroke="#111" stroke-width="0.12">pre-MSCT</text>
<path d="M342.84 568.9L342.84 570.5" stroke="#1a1a1a" stroke-width="1.3" fill="none"/>
<text x="345.04" y="576.7" font-size="5.8" font-weight="bold" text-anchor="end" fill="#111" transform="rotate(-45 345.04 576.7)" stroke="#111" stroke-width="0.12">2w</text>
<path d="M361.88 568.9L361.88 570.5" stroke="#1a1a1a" stroke-width="1.3" fill="none"/>
<text x="364.08" y="576.7" font-size="5.8" font-weight="bold" text-anchor="end" fill="#111" transform="rotate(-45 364.08 576.7)" stroke="#111" stroke-width="0.12">1m</text>
<path d="M380.92 568.9L380.92 570.5" stroke="#1a1a1a" stroke-width="1.3" fill="none"/>
<text x="383.12" y="576.7" font-size="5.8" font-weight="bold" text-anchor="end" fill="#111" transform="rotate(-45 383.12 576.7)" stroke="#111" stroke-width="0.12">3m</text>
<path d="M399.96 568.9L399.96 570.5" stroke="#1a1a1a" stroke-width="1.3" fill="none"/>
<text x="402.16" y="576.7" font-size="5.8" font-weight="bold" text-anchor="end" fill="#111" transform="rotate(-45 402.16 576.7)" stroke="#111" stroke-width="0.12">6m</text>
<path d="M419 568.9L419 570.5" stroke="#1a1a1a" stroke-width="1.3" fill="none"/>
<text x="421.2" y="576.7" font-size="5.8" font-weight="bold" text-anchor="end" fill="#111" transform="rotate(-45 421.2 576.7)" stroke="#111" stroke-width="0.12">12m</text>
<text x="299.8" y="531" font-size="7.6" font-weight="bold" text-anchor="middle" fill="#1a1a1a" transform="rotate(-90 299.8 531)" stroke="#1a1a1a" stroke-width="0.2">SSB (U/ml)</text>
<path d="M323.8 541.8L342.84 544.6L361.88 546.2L380.92 546.5L399.96 551" stroke="#f0903c" stroke-width="2.1" fill="none" stroke-linejoin="round"/>
<path d="M323.8 507L342.84 505.8L361.88 545.3L380.92 536.3" stroke="#7a8a2a" stroke-width="2.1" fill="none" stroke-linejoin="round"/>
<path d="M323.8 507L342.84 542.8L361.88 510L399.96 548.1L419 556.2" stroke="#2020d0" stroke-width="2.1" fill="none" stroke-linejoin="round"/>
<path d="M323.8 507L342.84 556.5L361.88 558" stroke="#d82a8a" stroke-width="2.1" fill="none" stroke-linejoin="round"/>
<path d="M323.8 507L361.88 558.8L399.96 559.7L419 536.3" stroke="#6a1a9a" stroke-width="2.1" fill="none" stroke-linejoin="round"/>
<circle cx="323.8" cy="507" r="2.3" fill="#6a1a9a"/>
<circle cx="361.88" cy="558.8" r="2.3" fill="#6a1a9a"/>
<circle cx="399.96" cy="559.7" r="2.3" fill="#6a1a9a"/>
<circle cx="419" cy="536.3" r="2.3" fill="#6a1a9a"/>
<path d="M323.8 506.2L361.88 551.5L399.96 514.7L419 541.5" stroke="#e8308a" stroke-width="2.1" fill="none" stroke-linejoin="round"/>
<rect x="321.5" y="503.9" width="4.6" height="4.6" fill="#e8308a"/>
<rect x="359.58" y="549.2" width="4.6" height="4.6" fill="#e8308a"/>
<rect x="397.66" y="512.4" width="4.6" height="4.6" fill="#e8308a"/>
<rect x="416.7" y="539.2" width="4.6" height="4.6" fill="#e8308a"/>
<path d="M420.8 501.9L424.2 501.9" stroke="#d82a8a" stroke-width="1.5" fill="none"/>
<text x="426" y="503.9" font-size="5.85" font-weight="normal" text-anchor="start" fill="#111" stroke="#111" stroke-width="0.22">patient 1</text>
<path d="M420.8 510.66L424.2 510.66" stroke="#f0903c" stroke-width="1.5" fill="none"/>
<text x="426" y="512.66" font-size="5.85" font-weight="normal" text-anchor="start" fill="#111" stroke="#111" stroke-width="0.22">patient 2</text>
<path d="M420.8 519.42L424.2 519.42" stroke="#7a8a2a" stroke-width="1.5" fill="none"/>
<text x="426" y="521.42" font-size="5.85" font-weight="normal" text-anchor="start" fill="#111" stroke="#111" stroke-width="0.22">patient 3</text>
<path d="M420.8 528.18L424.2 528.18" stroke="#2020d0" stroke-width="1.5" fill="none"/>
<text x="426" y="530.18" font-size="5.85" font-weight="normal" text-anchor="start" fill="#111" stroke="#111" stroke-width="0.22">patient 4</text>
<path d="M420.8 536.94L424.2 536.94" stroke="#6a1a9a" stroke-width="1.5" fill="none"/>
<circle cx="422.5" cy="536.94" r="2.3" fill="#6a1a9a"/>
<text x="426" y="538.94" font-size="5.85" font-weight="normal" text-anchor="start" fill="#111" stroke="#111" stroke-width="0.22">patient 5</text>
<path d="M420.8 545.7L424.2 545.7" stroke="#e8308a" stroke-width="1.5" fill="none"/>
<rect x="420.2" y="543.4" width="4.6" height="4.6" fill="#e8308a"/>
<text x="426" y="547.7" font-size="5.85" font-weight="normal" text-anchor="start" fill="#111" stroke="#111" stroke-width="0.22">patient 6</text>
</svg>
</body></html>
